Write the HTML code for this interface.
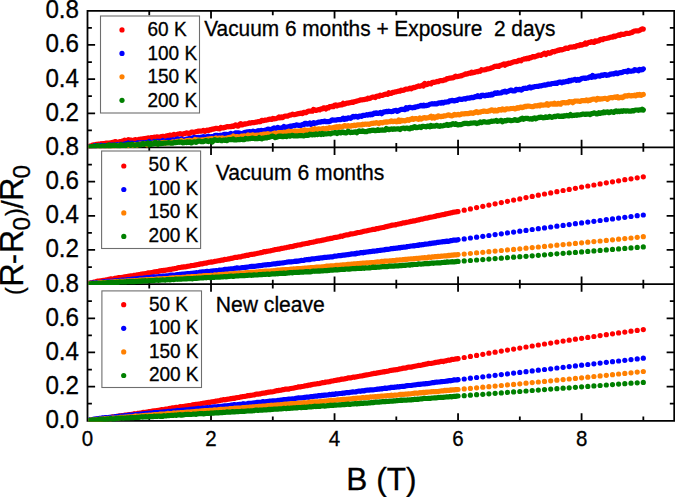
<!DOCTYPE html>
<html><head><meta charset="utf-8"><style>
html,body{margin:0;padding:0;background:#fff;}
body{width:675px;height:497px;overflow:hidden;font-family:"Liberation Sans",sans-serif;}
svg{display:block;} text{stroke:#000;stroke-width:0.3px;}
</style></head><body>
<svg width="675" height="497" viewBox="0 0 675 497"><defs><clipPath id="c0"><rect x="88.30" y="11.60" width="585.12" height="136.77"/></clipPath><clipPath id="c1"><rect x="88.30" y="148.27" width="585.12" height="136.77"/></clipPath><clipPath id="c2"><rect x="88.30" y="284.93" width="585.12" height="136.77"/></clipPath></defs><path d="M87.50 10.80L674.22 10.80M87.50 147.47L674.22 147.47M149.26 10.80L149.26 15.20M149.26 147.47L149.26 143.07M211.02 10.80L211.02 18.40M211.02 147.47L211.02 139.87M272.78 10.80L272.78 15.20M272.78 147.47L272.78 143.07M334.54 10.80L334.54 18.40M334.54 147.47L334.54 139.87M396.30 10.80L396.30 15.20M396.30 147.47L396.30 143.07M458.06 10.80L458.06 18.40M458.06 147.47L458.06 139.87M519.82 10.80L519.82 15.20M519.82 147.47L519.82 143.07M581.58 10.80L581.58 18.40M581.58 147.47L581.58 139.87M643.34 10.80L643.34 15.20M643.34 147.47L643.34 143.07M87.50 130.39L91.90 130.39M674.22 130.39L669.82 130.39M87.50 113.30L95.10 113.30M674.22 113.30L666.62 113.30M87.50 96.22L91.90 96.22M674.22 96.22L669.82 96.22M87.50 79.14L95.10 79.14M674.22 79.14L666.62 79.14M87.50 62.05L91.90 62.05M674.22 62.05L669.82 62.05M87.50 44.97L95.10 44.97M674.22 44.97L666.62 44.97M87.50 27.88L91.90 27.88M674.22 27.88L669.82 27.88M87.50 147.47L674.22 147.47M87.50 284.14L674.22 284.14M149.26 147.47L149.26 151.87M149.26 284.14L149.26 279.74M211.02 147.47L211.02 155.07M211.02 284.14L211.02 276.54M272.78 147.47L272.78 151.87M272.78 284.14L272.78 279.74M334.54 147.47L334.54 155.07M334.54 284.14L334.54 276.54M396.30 147.47L396.30 151.87M396.30 284.14L396.30 279.74M458.06 147.47L458.06 155.07M458.06 284.14L458.06 276.54M519.82 147.47L519.82 151.87M519.82 284.14L519.82 279.74M581.58 147.47L581.58 155.07M581.58 284.14L581.58 276.54M643.34 147.47L643.34 151.87M643.34 284.14L643.34 279.74M87.50 267.06L91.90 267.06M674.22 267.06L669.82 267.06M87.50 249.97L95.10 249.97M674.22 249.97L666.62 249.97M87.50 232.89L91.90 232.89M674.22 232.89L669.82 232.89M87.50 215.81L95.10 215.81M674.22 215.81L666.62 215.81M87.50 198.72L91.90 198.72M674.22 198.72L669.82 198.72M87.50 181.64L95.10 181.64M674.22 181.64L666.62 181.64M87.50 164.55L91.90 164.55M674.22 164.55L669.82 164.55M87.50 284.13L674.22 284.13M87.50 420.80L674.22 420.80M149.26 284.13L149.26 288.53M149.26 420.80L149.26 416.40M211.02 284.13L211.02 291.73M211.02 420.80L211.02 413.20M272.78 284.13L272.78 288.53M272.78 420.80L272.78 416.40M334.54 284.13L334.54 291.73M334.54 420.80L334.54 413.20M396.30 284.13L396.30 288.53M396.30 420.80L396.30 416.40M458.06 284.13L458.06 291.73M458.06 420.80L458.06 413.20M519.82 284.13L519.82 288.53M519.82 420.80L519.82 416.40M581.58 284.13L581.58 291.73M581.58 420.80L581.58 413.20M643.34 284.13L643.34 288.53M643.34 420.80L643.34 416.40M87.50 403.72L91.90 403.72M674.22 403.72L669.82 403.72M87.50 386.63L95.10 386.63M674.22 386.63L666.62 386.63M87.50 369.55L91.90 369.55M674.22 369.55L669.82 369.55M87.50 352.46L95.10 352.46M674.22 352.46L666.62 352.46M87.50 335.38L91.90 335.38M674.22 335.38L669.82 335.38M87.50 318.30L95.10 318.30M674.22 318.30L666.62 318.30M87.50 301.21L91.90 301.21M674.22 301.21L669.82 301.21M87.50 9.90L87.50 421.70M674.22 9.90L674.22 421.70" stroke="#000" stroke-width="1.8" fill="none"/><g clip-path="url(#c0)"><polyline points="87.5,147.5 88.7,146.4 90.0,146.0 91.2,146.2 92.4,145.0 93.7,144.9 94.9,145.1 96.1,144.4 97.4,144.3 98.6,144.1 99.9,144.1 101.1,143.7 102.3,144.0 103.6,143.6 104.8,143.6 106.0,143.0 107.3,143.0 108.5,143.0 109.7,143.1 111.0,142.7 112.2,142.4 113.4,142.4 114.7,141.6 115.9,141.6 117.1,143.0 118.4,142.5 119.6,141.6 120.9,141.6 122.1,141.2 123.3,141.1 124.6,140.1 125.8,141.3 127.0,140.9 128.3,139.7 129.5,140.2 130.7,140.0 132.0,140.4 133.2,140.7 134.4,139.8 135.7,139.7 136.9,140.1 138.1,139.7 139.4,139.3 140.6,139.5 141.8,139.0 143.1,138.8 144.3,138.7 145.6,138.8 146.8,138.2 148.0,137.9 149.3,138.0 150.5,138.3 151.7,137.5 153.0,137.9 154.2,137.1 155.4,137.8 156.7,136.8 157.9,137.0 159.1,137.4 160.4,136.9 161.6,136.5 162.8,136.3 164.1,136.7 165.3,136.5 166.6,135.8 167.8,136.0 169.0,135.5 170.3,135.1 171.5,136.0 172.7,135.0 174.0,134.4 175.2,134.9 176.4,134.9 177.7,134.1 178.9,134.2 180.1,133.7 181.4,134.1 182.6,134.4 183.8,133.6 185.1,133.6 186.3,132.9 187.6,133.0 188.8,133.6 190.0,133.2 191.3,132.2 192.5,132.1 193.7,132.4 195.0,132.0 196.2,131.6 197.4,131.4 198.7,131.1 199.9,131.2 201.1,131.1 202.4,131.0 203.6,130.3 204.8,131.4 206.1,130.4 207.3,130.1 208.5,130.5 209.8,129.6 211.0,129.8 212.3,129.0 213.5,129.2 214.7,128.7 216.0,128.3 217.2,128.4 218.4,128.7 219.7,128.8 220.9,127.3 222.1,127.8 223.4,127.9 224.6,127.3 225.8,127.3 227.1,126.6 228.3,126.8 229.5,126.6 230.8,126.6 232.0,126.0 233.3,126.4 234.5,125.5 235.7,124.9 237.0,125.9 238.2,126.1 239.4,124.6 240.7,123.6 241.9,124.9 243.1,124.7 244.4,123.8 245.6,124.1 246.8,123.8 248.1,123.5 249.3,122.9 250.5,123.1 251.8,122.6 253.0,122.5 254.3,122.6 255.5,122.2 256.7,122.2 258.0,121.6 259.2,121.8 260.4,121.6 261.7,120.3 262.9,120.7 264.1,120.4 265.4,120.0 266.6,120.1 267.8,119.8 269.1,119.3 270.3,119.1 271.5,119.5 272.8,118.4 274.0,118.8 275.3,118.7 276.5,118.4 277.7,118.0 279.0,116.9 280.2,117.8 281.4,117.0 282.7,117.7 283.9,116.6 285.1,116.0 286.4,116.2 287.6,116.1 288.8,115.5 290.1,115.1 291.3,114.9 292.5,114.1 293.8,114.6 295.0,114.6 296.2,114.2 297.5,113.9 298.7,113.6 300.0,113.4 301.2,113.1 302.4,113.6 303.7,112.3 304.9,112.6 306.1,112.6 307.4,111.6 308.6,111.0 309.8,111.1 311.1,111.0 312.3,111.2 313.5,109.4 314.8,109.9 316.0,110.5 317.2,110.1 318.5,109.5 319.7,109.9 321.0,108.9 322.2,108.9 323.4,107.9 324.7,107.8 325.9,109.0 327.1,107.6 328.4,108.0 329.6,106.6 330.8,106.7 332.1,106.3 333.3,106.7 334.5,105.3 335.8,104.9 337.0,105.9 338.2,105.0 339.5,105.2 340.7,104.6 342.0,104.9 343.2,103.3 344.4,104.2 345.7,103.6 346.9,103.0 348.1,103.2 349.4,102.8 350.6,102.6 351.8,102.2 353.1,102.3 354.3,101.7 355.5,101.4 356.8,101.1 358.0,100.7 359.2,100.5 360.5,99.8 361.7,100.0 362.9,99.6 364.2,99.6 365.4,99.2 366.7,99.2 367.9,98.2 369.1,98.6 370.4,98.2 371.6,97.4 372.8,97.1 374.1,97.1 375.3,97.5 376.5,96.2 377.8,96.0 379.0,96.4 380.2,95.2 381.5,95.5 382.7,95.4 383.9,94.6 385.2,94.4 386.4,94.0 387.7,94.4 388.9,92.7 390.1,93.4 391.4,93.5 392.6,92.3 393.8,92.4 395.1,91.8 396.3,91.8 397.5,91.4 398.8,91.0 400.0,91.1 401.2,90.2 402.5,90.4 403.7,90.2 404.9,89.5 406.2,89.1 407.4,89.1 408.7,89.0 409.9,88.1 411.1,88.8 412.4,88.2 413.6,87.4 414.8,87.7 416.1,86.8 417.3,86.6 418.5,85.9 419.8,86.3 421.0,85.9 422.2,85.2 423.5,86.0 424.7,83.4 425.9,84.7 427.2,84.4 428.4,83.4 429.7,83.5 430.9,83.9 432.1,82.6 433.4,82.2 434.6,82.4 435.8,82.0 437.1,81.4 438.3,81.7 439.5,80.8 440.8,80.6 442.0,80.6 443.2,80.6 444.5,79.8 445.7,79.8 446.9,78.7 448.2,78.7 449.4,78.2 450.6,78.1 451.9,77.8 453.1,77.9 454.4,77.0 455.6,76.2 456.8,76.7 458.1,76.5 459.3,76.1 460.5,75.9 461.8,75.6 463.0,75.0 464.2,74.8 465.5,73.8 466.7,74.1 467.9,73.7 469.2,73.1 470.4,73.3 471.6,72.2 472.9,72.8 474.1,72.5 475.4,72.0 476.6,71.6 477.8,71.8 479.1,71.0 480.3,71.3 481.5,69.7 482.8,70.0 484.0,69.9 485.2,69.7 486.5,69.2 487.7,68.8 488.9,68.8 490.2,68.5 491.4,67.8 492.6,67.7 493.9,66.7 495.1,66.3 496.4,66.5 497.6,66.0 498.8,66.4 500.1,65.3 501.3,65.2 502.5,64.7 503.8,63.9 505.0,65.2 506.2,63.8 507.5,64.1 508.7,63.1 509.9,63.5 511.2,62.9 512.4,62.3 513.6,61.8 514.9,61.7 516.1,61.7 517.3,61.3 518.6,60.4 519.8,60.4 521.1,60.8 522.3,59.5 523.5,59.3 524.8,58.8 526.0,59.0 527.2,58.2 528.5,58.6 529.7,57.7 530.9,57.8 532.2,57.0 533.4,56.5 534.6,56.9 535.9,56.3 537.1,56.0 538.3,55.2 539.6,55.1 540.8,55.5 542.1,54.5 543.3,54.1 544.5,53.2 545.8,54.5 547.0,53.7 548.2,52.6 549.5,53.4 550.7,53.0 551.9,52.0 553.2,51.5 554.4,51.8 555.6,51.0 556.9,50.9 558.1,50.0 559.3,50.3 560.6,49.6 561.8,50.0 563.1,49.4 564.3,49.1 565.5,48.2 566.8,48.2 568.0,48.4 569.2,47.5 570.5,47.1 571.7,47.2 572.9,46.9 574.2,46.6 575.4,46.9 576.6,45.8 577.9,45.5 579.1,45.6 580.3,44.7 581.6,45.2 582.8,44.6 584.1,44.2 585.3,42.9 586.5,44.1 587.8,42.9 589.0,42.4 590.2,42.3 591.5,41.7 592.7,42.3 593.9,42.5 595.2,40.9 596.4,41.4 597.6,40.8 598.9,40.8 600.1,39.6 601.3,39.3 602.6,39.7 603.8,38.7 605.0,38.7 606.3,38.5 607.5,38.1 608.8,37.9 610.0,37.3 611.2,37.1 612.5,37.1 613.7,36.2 614.9,36.6 616.2,35.9 617.4,35.6 618.6,34.8 619.9,35.3 621.1,34.1 622.3,34.5 623.6,34.3 624.8,34.2 626.0,33.4 627.3,33.3 628.5,33.5 629.8,33.2 631.0,32.7 632.2,32.4 633.5,31.4 634.7,31.0 635.9,30.9 637.2,30.8 638.4,30.8 639.6,30.3 640.9,29.7 642.1,28.9 643.3,29.1" fill="none" stroke="#ff0000" stroke-width="5.2" stroke-linecap="round" stroke-linejoin="round"/><polyline points="87.5,147.5 88.7,147.1 90.0,146.9 91.2,147.1 92.4,146.7 93.7,146.4 94.9,145.7 96.1,146.3 97.4,145.7 98.6,145.4 99.9,146.0 101.1,145.3 102.3,145.5 103.6,145.9 104.8,145.5 106.0,145.6 107.3,145.6 108.5,145.5 109.7,145.2 111.0,145.0 112.2,145.5 113.4,145.0 114.7,145.6 115.9,144.8 117.1,144.5 118.4,144.6 119.6,144.5 120.9,144.3 122.1,144.7 123.3,144.4 124.6,144.0 125.8,143.7 127.0,143.9 128.3,142.9 129.5,143.9 130.7,143.4 132.0,143.2 133.2,143.6 134.4,143.8 135.7,143.9 136.9,143.2 138.1,142.8 139.4,143.0 140.6,142.9 141.8,143.1 143.1,142.6 144.3,143.6 145.6,142.5 146.8,142.5 148.0,143.0 149.3,141.4 150.5,142.8 151.7,142.6 153.0,142.5 154.2,141.4 155.4,142.2 156.7,141.4 157.9,141.3 159.1,141.4 160.4,141.9 161.6,141.5 162.8,140.5 164.1,141.6 165.3,141.3 166.6,140.9 167.8,140.4 169.0,140.5 170.3,140.2 171.5,140.8 172.7,139.9 174.0,139.9 175.2,140.7 176.4,139.3 177.7,138.9 178.9,140.0 180.1,139.5 181.4,138.9 182.6,139.9 183.8,140.0 185.1,139.6 186.3,139.2 187.6,139.1 188.8,138.5 190.0,138.5 191.3,139.0 192.5,138.1 193.7,137.4 195.0,137.6 196.2,137.5 197.4,137.8 198.7,137.3 199.9,138.0 201.1,137.1 202.4,137.3 203.6,136.7 204.8,136.9 206.1,137.4 207.3,136.7 208.5,136.1 209.8,137.0 211.0,136.6 212.3,136.6 213.5,136.7 214.7,135.6 216.0,135.3 217.2,135.4 218.4,135.5 219.7,135.4 220.9,135.2 222.1,135.4 223.4,134.6 224.6,134.4 225.8,134.3 227.1,134.8 228.3,134.4 229.5,134.3 230.8,133.4 232.0,133.9 233.3,134.6 234.5,133.5 235.7,132.8 237.0,133.1 238.2,132.9 239.4,133.1 240.7,133.8 241.9,133.5 243.1,133.2 244.4,132.5 245.6,132.2 246.8,131.9 248.1,132.2 249.3,131.5 250.5,131.8 251.8,131.9 253.0,131.1 254.3,131.6 255.5,132.2 256.7,131.4 258.0,130.7 259.2,131.9 260.4,130.6 261.7,130.4 262.9,130.7 264.1,130.6 265.4,130.0 266.6,129.9 267.8,129.0 269.1,129.2 270.3,129.8 271.5,129.4 272.8,128.6 274.0,127.9 275.3,128.4 276.5,128.2 277.7,127.4 279.0,128.0 280.2,128.0 281.4,128.3 282.7,127.7 283.9,126.4 285.1,127.7 286.4,127.0 287.6,127.4 288.8,126.6 290.1,126.1 291.3,126.4 292.5,125.8 293.8,125.7 295.0,125.6 296.2,124.9 297.5,125.1 298.7,125.4 300.0,125.4 301.2,125.3 302.4,124.5 303.7,124.7 304.9,123.3 306.1,123.4 307.4,124.1 308.6,124.0 309.8,123.0 311.1,124.3 312.3,123.5 313.5,122.7 314.8,123.3 316.0,123.0 317.2,122.7 318.5,122.1 319.7,122.2 321.0,121.9 322.2,121.6 323.4,121.7 324.7,121.0 325.9,121.6 327.1,121.7 328.4,121.7 329.6,121.4 330.8,120.8 332.1,119.9 333.3,120.1 334.5,120.2 335.8,120.2 337.0,119.8 338.2,119.6 339.5,119.5 340.7,119.6 342.0,119.1 343.2,118.2 344.4,119.4 345.7,118.4 346.9,119.0 348.1,117.8 349.4,118.0 350.6,118.4 351.8,117.3 353.1,116.4 354.3,116.9 355.5,116.3 356.8,116.6 358.0,117.2 359.2,116.0 360.5,116.1 361.7,116.4 362.9,115.3 364.2,115.3 365.4,115.4 366.7,114.6 367.9,115.1 369.1,114.3 370.4,114.8 371.6,114.0 372.8,114.5 374.1,113.2 375.3,113.5 376.5,112.8 377.8,113.5 379.0,113.2 380.2,112.5 381.5,113.7 382.7,112.8 383.9,111.8 385.2,111.8 386.4,111.4 387.7,111.7 388.9,111.2 390.1,111.5 391.4,111.6 392.6,111.5 393.8,110.8 395.1,110.6 396.3,110.4 397.5,111.4 398.8,110.6 400.0,109.8 401.2,109.3 402.5,109.4 403.7,109.3 404.9,109.7 406.2,107.7 407.4,108.8 408.7,107.5 409.9,107.3 411.1,107.6 412.4,107.8 413.6,107.3 414.8,107.6 416.1,106.8 417.3,106.7 418.5,106.3 419.8,105.9 421.0,105.4 422.2,106.0 423.5,105.2 424.7,105.8 425.9,105.6 427.2,105.3 428.4,105.2 429.7,104.2 430.9,104.0 432.1,103.7 433.4,104.0 434.6,103.7 435.8,103.8 437.1,103.8 438.3,103.0 439.5,102.8 440.8,103.2 442.0,102.3 443.2,103.0 444.5,102.2 445.7,102.2 446.9,101.9 448.2,101.9 449.4,100.9 450.6,100.8 451.9,100.4 453.1,100.6 454.4,101.0 455.6,100.4 456.8,100.5 458.1,99.6 459.3,99.1 460.5,99.3 461.8,99.4 463.0,99.1 464.2,98.7 465.5,99.1 466.7,98.3 467.9,98.0 469.2,98.1 470.4,97.9 471.6,97.4 472.9,97.6 474.1,97.4 475.4,96.5 476.6,96.6 477.8,95.7 479.1,96.6 480.3,96.7 481.5,95.4 482.8,95.2 484.0,95.7 485.2,95.8 486.5,95.0 487.7,95.5 488.9,94.7 490.2,95.2 491.4,94.2 492.6,94.8 493.9,93.8 495.1,92.9 496.4,93.4 497.6,92.7 498.8,93.1 500.1,93.0 501.3,93.0 502.5,91.8 503.8,92.0 505.0,91.1 506.2,92.1 507.5,91.5 508.7,91.1 509.9,90.4 511.2,90.0 512.4,90.8 513.6,90.8 514.9,90.8 516.1,89.3 517.3,89.7 518.6,89.7 519.8,89.3 521.1,90.1 522.3,89.6 523.5,88.3 524.8,88.3 526.0,88.2 527.2,88.4 528.5,87.6 529.7,86.9 530.9,87.9 532.2,87.2 533.4,87.1 534.6,86.6 535.9,86.5 537.1,86.4 538.3,86.5 539.6,85.9 540.8,86.0 542.1,85.6 543.3,85.3 544.5,84.8 545.8,85.1 547.0,84.8 548.2,84.0 549.5,84.3 550.7,84.1 551.9,83.5 553.2,83.5 554.4,83.4 555.6,83.1 556.9,83.5 558.1,82.6 559.3,82.0 560.6,82.1 561.8,82.8 563.1,81.9 564.3,82.1 565.5,81.7 566.8,81.3 568.0,81.6 569.2,80.4 570.5,80.8 571.7,80.2 572.9,80.1 574.2,79.6 575.4,79.4 576.6,80.3 577.9,79.5 579.1,80.2 580.3,79.3 581.6,78.6 582.8,78.3 584.1,78.0 585.3,78.5 586.5,78.0 587.8,77.9 589.0,77.2 590.2,76.8 591.5,77.4 592.7,75.5 593.9,76.9 595.2,76.8 596.4,76.2 597.6,76.0 598.9,75.9 600.1,76.2 601.3,75.1 602.6,75.5 603.8,74.7 605.0,74.5 606.3,75.4 607.5,75.1 608.8,74.9 610.0,74.2 611.2,74.1 612.5,73.8 613.7,74.1 614.9,73.4 616.2,72.8 617.4,73.7 618.6,73.0 619.9,72.7 621.1,72.6 622.3,72.5 623.6,71.5 624.8,71.5 626.0,71.4 627.3,71.9 628.5,70.5 629.8,71.1 631.0,71.3 632.2,71.0 633.5,70.9 634.7,69.6 635.9,70.2 637.2,70.1 638.4,70.8 639.6,69.4 640.9,70.0 642.1,69.8 643.3,68.9" fill="none" stroke="#0000ff" stroke-width="5.2" stroke-linecap="round" stroke-linejoin="round"/><polyline points="87.5,147.5 88.7,147.5 90.0,147.4 91.2,148.1 92.4,147.4 93.7,147.9 94.9,147.3 96.1,146.8 97.4,147.7 98.6,146.3 99.9,147.1 101.1,147.4 102.3,146.9 103.6,146.5 104.8,147.3 106.0,146.6 107.3,147.1 108.5,146.0 109.7,146.4 111.0,146.5 112.2,145.9 113.4,146.7 114.7,146.3 115.9,145.3 117.1,146.0 118.4,145.3 119.6,145.7 120.9,146.0 122.1,145.8 123.3,145.6 124.6,145.7 125.8,145.8 127.0,145.7 128.3,145.9 129.5,145.1 130.7,145.0 132.0,144.7 133.2,145.7 134.4,144.5 135.7,144.8 136.9,145.3 138.1,144.6 139.4,144.2 140.6,144.2 141.8,144.1 143.1,143.9 144.3,143.8 145.6,144.1 146.8,144.9 148.0,144.2 149.3,143.7 150.5,143.9 151.7,143.4 153.0,143.3 154.2,143.5 155.4,142.6 156.7,143.7 157.9,142.8 159.1,143.3 160.4,143.4 161.6,142.7 162.8,143.1 164.1,142.4 165.3,143.2 166.6,142.6 167.8,142.8 169.0,142.5 170.3,142.5 171.5,142.7 172.7,141.8 174.0,142.5 175.2,142.3 176.4,141.5 177.7,141.3 178.9,141.4 180.1,141.4 181.4,140.5 182.6,141.8 183.8,141.6 185.1,141.6 186.3,140.7 187.6,140.8 188.8,140.4 190.0,140.4 191.3,140.8 192.5,140.9 193.7,140.9 195.0,139.5 196.2,139.9 197.4,139.9 198.7,140.2 199.9,140.0 201.1,140.0 202.4,139.9 203.6,140.6 204.8,139.6 206.1,139.6 207.3,139.2 208.5,139.2 209.8,138.8 211.0,139.0 212.3,138.6 213.5,139.9 214.7,139.2 216.0,137.9 217.2,139.0 218.4,138.5 219.7,138.0 220.9,138.6 222.1,137.8 223.4,138.6 224.6,138.7 225.8,138.3 227.1,138.3 228.3,137.6 229.5,137.6 230.8,137.2 232.0,137.7 233.3,136.1 234.5,137.1 235.7,136.9 237.0,136.6 238.2,136.8 239.4,136.8 240.7,136.4 241.9,136.0 243.1,136.0 244.4,135.8 245.6,136.3 246.8,136.2 248.1,135.0 249.3,135.8 250.5,135.4 251.8,135.2 253.0,134.8 254.3,135.8 255.5,135.3 256.7,135.2 258.0,135.0 259.2,135.8 260.4,134.7 261.7,135.8 262.9,134.3 264.1,134.1 265.4,134.0 266.6,134.6 267.8,133.6 269.1,134.2 270.3,134.3 271.5,134.1 272.8,133.9 274.0,133.3 275.3,133.0 276.5,134.0 277.7,133.3 279.0,132.6 280.2,132.7 281.4,132.5 282.7,133.2 283.9,132.1 285.1,133.0 286.4,132.2 287.6,131.6 288.8,131.2 290.1,131.7 291.3,131.4 292.5,131.9 293.8,131.7 295.0,130.9 296.2,131.3 297.5,131.2 298.7,131.6 300.0,130.9 301.2,130.5 302.4,131.0 303.7,130.8 304.9,129.8 306.1,130.3 307.4,130.3 308.6,130.5 309.8,130.2 311.1,129.9 312.3,129.2 313.5,129.8 314.8,128.7 316.0,129.7 317.2,129.4 318.5,128.8 319.7,129.1 321.0,129.2 322.2,128.8 323.4,128.4 324.7,129.2 325.9,128.5 327.1,128.3 328.4,128.3 329.6,127.7 330.8,128.1 332.1,127.9 333.3,127.6 334.5,127.2 335.8,127.5 337.0,126.6 338.2,127.5 339.5,126.5 340.7,127.2 342.0,126.8 343.2,126.5 344.4,125.6 345.7,126.0 346.9,126.4 348.1,125.6 349.4,126.1 350.6,126.2 351.8,125.5 353.1,125.6 354.3,125.1 355.5,125.6 356.8,125.1 358.0,124.8 359.2,124.8 360.5,124.8 361.7,125.0 362.9,124.2 364.2,124.4 365.4,124.1 366.7,124.3 367.9,124.1 369.1,124.4 370.4,123.8 371.6,123.4 372.8,123.5 374.1,123.1 375.3,123.2 376.5,122.6 377.8,123.1 379.0,123.6 380.2,122.6 381.5,122.7 382.7,122.9 383.9,122.1 385.2,122.1 386.4,121.9 387.7,122.1 388.9,121.8 390.1,121.6 391.4,120.9 392.6,121.7 393.8,121.3 395.1,121.1 396.3,121.8 397.5,121.6 398.8,119.9 400.0,121.4 401.2,120.3 402.5,120.8 403.7,120.6 404.9,121.0 406.2,120.4 407.4,119.6 408.7,120.3 409.9,119.4 411.1,119.4 412.4,118.5 413.6,119.4 414.8,118.6 416.1,118.6 417.3,118.9 418.5,119.4 419.8,117.9 421.0,119.0 422.2,118.5 423.5,117.8 424.7,117.6 425.9,118.2 427.2,117.8 428.4,117.7 429.7,117.0 430.9,116.3 432.1,118.0 433.4,116.7 434.6,118.1 435.8,116.8 437.1,117.2 438.3,115.8 439.5,116.4 440.8,116.6 442.0,116.4 443.2,116.3 444.5,115.8 445.7,115.8 446.9,115.4 448.2,114.9 449.4,115.1 450.6,115.7 451.9,115.8 453.1,115.3 454.4,114.4 455.6,114.8 456.8,114.8 458.1,114.4 459.3,114.9 460.5,114.6 461.8,113.8 463.0,114.0 464.2,113.9 465.5,113.5 466.7,113.7 467.9,113.6 469.2,113.4 470.4,112.8 471.6,112.9 472.9,113.3 474.1,112.8 475.4,112.3 476.6,111.6 477.8,112.7 479.1,112.0 480.3,112.1 481.5,111.5 482.8,111.5 484.0,111.0 485.2,111.2 486.5,111.5 487.7,111.4 488.9,110.9 490.2,110.8 491.4,109.8 492.6,110.0 493.9,111.0 495.1,110.2 496.4,110.8 497.6,110.8 498.8,109.7 500.1,109.6 501.3,110.1 502.5,108.9 503.8,109.8 505.0,109.8 506.2,108.9 507.5,108.9 508.7,109.0 509.9,108.8 511.2,108.5 512.4,108.5 513.6,108.4 514.9,109.0 516.1,108.6 517.3,107.7 518.6,108.1 519.8,107.5 521.1,107.0 522.3,107.6 523.5,107.2 524.8,106.3 526.0,106.7 527.2,106.1 528.5,106.1 529.7,106.3 530.9,106.5 532.2,106.7 533.4,106.7 534.6,105.9 535.9,105.7 537.1,105.9 538.3,105.3 539.6,105.8 540.8,104.9 542.1,105.2 543.3,105.1 544.5,105.0 545.8,104.9 547.0,103.7 548.2,105.2 549.5,104.4 550.7,103.8 551.9,103.9 553.2,104.2 554.4,103.2 555.6,104.2 556.9,104.2 558.1,103.3 559.3,104.0 560.6,104.2 561.8,102.8 563.1,102.7 564.3,102.6 565.5,102.9 566.8,102.5 568.0,102.8 569.2,101.6 570.5,101.9 571.7,101.7 572.9,102.7 574.2,101.5 575.4,101.0 576.6,101.0 577.9,101.1 579.1,101.3 580.3,101.3 581.6,100.7 582.8,100.7 584.1,100.6 585.3,100.7 586.5,99.8 587.8,100.8 589.0,100.2 590.2,100.3 591.5,99.5 592.7,99.2 593.9,99.2 595.2,99.2 596.4,100.0 597.6,98.4 598.9,98.9 600.1,99.1 601.3,98.9 602.6,98.9 603.8,98.5 605.0,98.4 606.3,98.5 607.5,99.3 608.8,98.1 610.0,97.8 611.2,97.6 612.5,97.8 613.7,97.4 614.9,97.0 616.2,97.5 617.4,96.6 618.6,97.9 619.9,97.5 621.1,97.2 622.3,97.7 623.6,97.0 624.8,95.9 626.0,95.8 627.3,96.1 628.5,95.3 629.8,95.8 631.0,96.0 632.2,95.5 633.5,95.6 634.7,95.1 635.9,95.9 637.2,94.7 638.4,95.2 639.6,94.5 640.9,95.4 642.1,94.8 643.3,94.5" fill="none" stroke="#ff8000" stroke-width="5.2" stroke-linecap="round" stroke-linejoin="round"/><polyline points="87.5,147.5 88.7,147.1 90.0,147.0 91.2,146.7 92.4,147.0 93.7,146.2 94.9,146.6 96.1,146.1 97.4,145.5 98.6,146.1 99.9,146.5 101.1,146.4 102.3,145.9 103.6,146.0 104.8,146.4 106.0,146.2 107.3,145.6 108.5,144.9 109.7,146.9 111.0,145.4 112.2,145.7 113.4,145.3 114.7,145.2 115.9,145.5 117.1,145.8 118.4,145.9 119.6,146.1 120.9,144.7 122.1,145.3 123.3,145.3 124.6,145.2 125.8,145.6 127.0,144.8 128.3,144.4 129.5,144.4 130.7,145.4 132.0,144.2 133.2,145.0 134.4,145.4 135.7,145.1 136.9,144.9 138.1,144.4 139.4,144.8 140.6,144.9 141.8,144.4 143.1,143.4 144.3,144.4 145.6,143.9 146.8,144.0 148.0,142.9 149.3,144.7 150.5,143.4 151.7,144.3 153.0,144.0 154.2,143.7 155.4,142.3 156.7,143.9 157.9,144.3 159.1,142.9 160.4,143.7 161.6,143.4 162.8,143.3 164.1,143.2 165.3,143.2 166.6,143.0 167.8,142.9 169.0,142.6 170.3,143.1 171.5,143.2 172.7,143.2 174.0,142.5 175.2,142.7 176.4,142.4 177.7,142.3 178.9,141.8 180.1,142.3 181.4,142.1 182.6,142.8 183.8,142.7 185.1,142.3 186.3,142.6 187.6,141.8 188.8,142.5 190.0,141.9 191.3,142.9 192.5,142.2 193.7,141.9 195.0,141.8 196.2,142.3 197.4,141.5 198.7,141.1 199.9,141.1 201.1,141.6 202.4,141.5 203.6,141.7 204.8,140.9 206.1,140.5 207.3,141.2 208.5,141.6 209.8,140.8 211.0,140.5 212.3,141.9 213.5,140.6 214.7,139.7 216.0,140.2 217.2,140.3 218.4,140.3 219.7,139.9 220.9,140.7 222.1,140.6 223.4,140.0 224.6,140.4 225.8,139.9 227.1,140.7 228.3,139.6 229.5,139.5 230.8,139.7 232.0,139.6 233.3,138.9 234.5,140.0 235.7,139.8 237.0,139.8 238.2,139.5 239.4,139.7 240.7,139.2 241.9,139.4 243.1,139.6 244.4,139.6 245.6,138.4 246.8,138.8 248.1,138.8 249.3,138.7 250.5,138.6 251.8,138.2 253.0,138.2 254.3,138.6 255.5,138.6 256.7,138.7 258.0,138.7 259.2,137.5 260.4,138.4 261.7,138.8 262.9,138.2 264.1,138.1 265.4,137.6 266.6,138.0 267.8,137.3 269.1,137.3 270.3,136.9 271.5,136.4 272.8,136.1 274.0,136.6 275.3,137.6 276.5,137.2 277.7,136.8 279.0,136.0 280.2,136.5 281.4,136.2 282.7,136.7 283.9,136.3 285.1,136.2 286.4,136.6 287.6,136.0 288.8,135.8 290.1,136.2 291.3,135.7 292.5,135.3 293.8,135.9 295.0,135.9 296.2,135.9 297.5,136.0 298.7,135.6 300.0,135.7 301.2,135.6 302.4,135.7 303.7,135.9 304.9,135.6 306.1,135.0 307.4,135.5 308.6,135.2 309.8,134.2 311.1,134.4 312.3,135.0 313.5,134.4 314.8,134.8 316.0,133.8 317.2,134.6 318.5,134.3 319.7,133.7 321.0,134.5 322.2,133.5 323.4,134.3 324.7,133.8 325.9,133.9 327.1,133.8 328.4,133.6 329.6,133.6 330.8,133.9 332.1,133.1 333.3,133.0 334.5,132.7 335.8,132.6 337.0,133.6 338.2,132.5 339.5,132.4 340.7,133.0 342.0,132.3 343.2,132.0 344.4,132.8 345.7,133.0 346.9,132.5 348.1,131.2 349.4,132.1 350.6,132.6 351.8,132.2 353.1,132.4 354.3,132.0 355.5,131.8 356.8,132.8 358.0,131.5 359.2,130.9 360.5,131.5 361.7,131.5 362.9,130.8 364.2,131.7 365.4,131.6 366.7,131.6 367.9,131.0 369.1,130.7 370.4,130.8 371.6,130.4 372.8,130.2 374.1,130.3 375.3,130.7 376.5,130.4 377.8,129.7 379.0,130.5 380.2,130.1 381.5,130.1 382.7,129.9 383.9,130.2 385.2,130.2 386.4,128.5 387.7,129.1 388.9,129.7 390.1,129.3 391.4,128.9 392.6,129.3 393.8,128.8 395.1,129.2 396.3,129.0 397.5,128.8 398.8,128.9 400.0,129.6 401.2,128.5 402.5,128.3 403.7,128.1 404.9,128.6 406.2,128.0 407.4,128.0 408.7,128.7 409.9,128.8 411.1,127.6 412.4,128.1 413.6,127.2 414.8,126.6 416.1,127.6 417.3,127.6 418.5,127.2 419.8,126.8 421.0,127.5 422.2,126.4 423.5,126.4 424.7,126.5 425.9,126.9 427.2,126.2 428.4,126.1 429.7,126.9 430.9,125.4 432.1,126.3 433.4,125.9 434.6,126.2 435.8,125.8 437.1,125.3 438.3,126.1 439.5,126.3 440.8,125.7 442.0,126.0 443.2,125.7 444.5,125.3 445.7,125.2 446.9,124.5 448.2,125.4 449.4,124.7 450.6,125.0 451.9,124.1 453.1,123.6 454.4,124.4 455.6,123.7 456.8,124.5 458.1,124.9 459.3,124.6 460.5,124.7 461.8,124.3 463.0,123.9 464.2,123.3 465.5,123.4 466.7,123.4 467.9,123.6 469.2,123.6 470.4,123.2 471.6,123.1 472.9,123.0 474.1,122.8 475.4,122.9 476.6,123.6 477.8,123.1 479.1,122.9 480.3,121.8 481.5,122.6 482.8,122.0 484.0,121.6 485.2,122.0 486.5,122.2 487.7,122.0 488.9,122.2 490.2,121.6 491.4,121.2 492.6,121.3 493.9,121.1 495.1,121.0 496.4,120.4 497.6,121.4 498.8,121.0 500.1,120.7 501.3,120.3 502.5,121.7 503.8,120.9 505.0,120.6 506.2,120.9 507.5,120.0 508.7,120.2 509.9,120.3 511.2,120.7 512.4,120.5 513.6,120.3 514.9,119.6 516.1,120.2 517.3,120.4 518.6,120.1 519.8,119.6 521.1,118.6 522.3,118.2 523.5,119.3 524.8,118.6 526.0,118.3 527.2,118.3 528.5,118.8 529.7,119.1 530.9,118.7 532.2,119.2 533.4,118.2 534.6,117.9 535.9,118.9 537.1,118.1 538.3,117.8 539.6,117.3 540.8,117.2 542.1,117.3 543.3,117.8 544.5,117.6 545.8,116.9 547.0,117.5 548.2,117.2 549.5,116.4 550.7,116.9 551.9,117.4 553.2,116.9 554.4,116.4 555.6,116.6 556.9,116.0 558.1,115.8 559.3,116.5 560.6,116.4 561.8,116.1 563.1,116.5 564.3,115.7 565.5,115.9 566.8,115.4 568.0,115.8 569.2,115.9 570.5,114.6 571.7,115.7 572.9,115.4 574.2,115.4 575.4,115.1 576.6,115.3 577.9,114.8 579.1,115.0 580.3,114.8 581.6,114.4 582.8,114.1 584.1,114.1 585.3,114.5 586.5,114.0 587.8,114.1 589.0,114.0 590.2,114.6 591.5,113.5 592.7,113.7 593.9,112.9 595.2,113.2 596.4,113.8 597.6,113.8 598.9,112.7 600.1,113.4 601.3,112.7 602.6,113.0 603.8,111.9 605.0,112.6 606.3,112.0 607.5,111.9 608.8,112.6 610.0,112.4 611.2,111.6 612.5,112.1 613.7,112.4 614.9,111.4 616.2,110.8 617.4,111.7 618.6,111.0 619.9,111.6 621.1,110.9 622.3,111.4 623.6,110.7 624.8,110.9 626.0,111.1 627.3,110.8 628.5,111.1 629.8,111.2 631.0,111.1 632.2,110.6 633.5,110.9 634.7,110.2 635.9,110.0 637.2,110.0 638.4,110.3 639.6,109.9 640.9,109.9 642.1,109.2 643.3,110.0" fill="none" stroke="#008000" stroke-width="5.2" stroke-linecap="round" stroke-linejoin="round"/></g><g clip-path="url(#c1)"><polyline points="87.5,284.1 88.7,283.4 90.0,283.1 91.2,282.9 92.4,282.6 93.7,282.1 94.9,282.0 96.1,281.6 97.4,281.2 98.6,281.1 99.9,281.3 101.1,280.7 102.3,280.5 103.6,280.3 104.8,280.4 106.0,279.9 107.3,279.9 108.5,279.4 109.7,279.2 111.0,278.8 112.2,279.0 113.4,278.9 114.7,278.4 115.9,278.2 117.1,278.2 118.4,277.7 119.6,277.6 120.9,277.7 122.1,277.4 123.3,277.2 124.6,276.9 125.8,276.7 127.0,276.6 128.3,276.4 129.5,276.0 130.7,275.9 132.0,275.8 133.2,275.6 134.4,275.3 135.7,275.4 136.9,274.9 138.1,274.9 139.4,274.5 140.6,274.5 141.8,274.0 143.1,273.9 144.3,273.9 145.6,273.5 146.8,273.4 148.0,272.9 149.3,272.8 150.5,272.8 151.7,272.5 153.0,272.3 154.2,271.9 155.4,271.8 156.7,271.6 157.9,271.6 159.1,271.1 160.4,270.8 161.6,270.7 162.8,270.6 164.1,270.4 165.3,270.3 166.6,270.0 167.8,269.9 169.0,269.6 170.3,269.4 171.5,269.3 172.7,268.9 174.0,268.9 175.2,268.5 176.4,268.5 177.7,267.8 178.9,267.6 180.1,267.5 181.4,267.2 182.6,267.1 183.8,266.9 185.1,266.9 186.3,266.7 187.6,266.3 188.8,266.2 190.0,266.0 191.3,265.6 192.5,265.5 193.7,265.5 195.0,265.1 196.2,264.9 197.4,264.6 198.7,264.5 199.9,264.0 201.1,263.7 202.4,263.9 203.6,263.4 204.8,263.2 206.1,263.2 207.3,262.8 208.5,262.4 209.8,262.2 211.0,261.9 212.3,262.1 213.5,261.8 214.7,261.4 216.0,261.2 217.2,261.0 218.4,260.8 219.7,260.6 220.9,260.4 222.1,260.0 223.4,260.2 224.6,259.4 225.8,259.5 227.1,259.3 228.3,258.8 229.5,258.9 230.8,258.4 232.0,258.3 233.3,257.9 234.5,257.6 235.7,257.3 237.0,257.4 238.2,257.1 239.4,256.8 240.7,256.8 241.9,256.3 243.1,256.1 244.4,256.0 245.6,255.5 246.8,255.2 248.1,255.3 249.3,254.8 250.5,254.5 251.8,254.3 253.0,254.3 254.3,254.1 255.5,253.7 256.7,253.5 258.0,253.2 259.2,253.0 260.4,252.7 261.7,252.6 262.9,252.3 264.1,251.6 265.4,251.8 266.6,251.4 267.8,251.2 269.1,251.0 270.3,250.9 271.5,250.5 272.8,250.3 274.0,249.9 275.3,249.5 276.5,249.5 277.7,249.2 279.0,249.2 280.2,248.8 281.4,248.3 282.7,248.3 283.9,248.1 285.1,247.8 286.4,247.6 287.6,247.3 288.8,247.1 290.1,246.5 291.3,246.7 292.5,246.4 293.8,246.1 295.0,245.6 296.2,245.6 297.5,245.1 298.7,245.0 300.0,244.8 301.2,244.7 302.4,244.1 303.7,244.0 304.9,243.7 306.1,243.5 307.4,243.3 308.6,243.2 309.8,242.6 311.1,242.5 312.3,242.3 313.5,242.1 314.8,241.7 316.0,241.5 317.2,241.0 318.5,240.9 319.7,240.8 321.0,240.6 322.2,240.2 323.4,240.1 324.7,239.7 325.9,239.4 327.1,239.1 328.4,238.9 329.6,238.7 330.8,238.3 332.1,238.3 333.3,237.9 334.5,237.5 335.8,237.3 337.0,237.3 338.2,237.0 339.5,236.8 340.7,236.1 342.0,236.3 343.2,235.8 344.4,235.3 345.7,235.1 346.9,234.8 348.1,234.8 349.4,234.4 350.6,233.8 351.8,234.0 353.1,233.7 354.3,233.5 355.5,233.2 356.8,232.9 358.0,232.5 359.2,232.5 360.5,232.3 361.7,231.9 362.9,231.6 364.2,231.2 365.4,231.0 366.7,230.9 367.9,230.5 369.1,230.2 370.4,230.0 371.6,229.8 372.8,229.4 374.1,229.3 375.3,229.3 376.5,228.6 377.8,228.7 379.0,228.3 380.2,228.0 381.5,227.7 382.7,227.5 383.9,227.4 385.2,226.8 386.4,226.6 387.7,226.4 388.9,226.0 390.1,225.7 391.4,225.4 392.6,225.1 393.8,225.0 395.1,225.0 396.3,224.5 397.5,224.3 398.8,224.0 400.0,223.8 401.2,223.6 402.5,223.1 403.7,222.8 404.9,222.8 406.2,222.4 407.4,222.2 408.7,222.0 409.9,221.6 411.1,221.4 412.4,221.2 413.6,220.8 414.8,220.9 416.1,220.4 417.3,220.1 418.5,220.0 419.8,219.5 421.0,219.2 422.2,219.1 423.5,218.8 424.7,218.4 425.9,218.1 427.2,218.1 428.4,217.7 429.7,217.3 430.9,217.2 432.1,217.0 433.4,216.8 434.6,216.4 435.8,216.3 437.1,215.6 438.3,215.7 439.5,215.3 440.8,215.1 442.0,214.8 443.2,214.6 444.5,214.5 445.7,213.8 446.9,213.8 448.2,213.5 449.4,213.3 450.6,212.8 451.9,212.7 453.1,212.3 454.4,212.1 455.6,212.0 456.8,211.7 458.1,211.6" fill="none" stroke="#ff0000" stroke-width="5.2" stroke-linecap="round" stroke-linejoin="round"/><circle cx="464.2" cy="210.2" r="2.6" fill="#ff0000"/><circle cx="470.4" cy="208.9" r="2.6" fill="#ff0000"/><circle cx="476.6" cy="207.6" r="2.6" fill="#ff0000"/><circle cx="482.8" cy="206.3" r="2.6" fill="#ff0000"/><circle cx="488.9" cy="205.1" r="2.6" fill="#ff0000"/><circle cx="495.1" cy="203.8" r="2.6" fill="#ff0000"/><circle cx="501.3" cy="202.6" r="2.6" fill="#ff0000"/><circle cx="507.5" cy="201.3" r="2.6" fill="#ff0000"/><circle cx="513.6" cy="200.1" r="2.6" fill="#ff0000"/><circle cx="519.8" cy="198.9" r="2.6" fill="#ff0000"/><circle cx="526.0" cy="197.6" r="2.6" fill="#ff0000"/><circle cx="532.2" cy="196.4" r="2.6" fill="#ff0000"/><circle cx="538.3" cy="195.2" r="2.6" fill="#ff0000"/><circle cx="544.5" cy="194.0" r="2.6" fill="#ff0000"/><circle cx="550.7" cy="192.9" r="2.6" fill="#ff0000"/><circle cx="556.9" cy="191.7" r="2.6" fill="#ff0000"/><circle cx="563.1" cy="190.5" r="2.6" fill="#ff0000"/><circle cx="569.2" cy="189.4" r="2.6" fill="#ff0000"/><circle cx="575.4" cy="188.3" r="2.6" fill="#ff0000"/><circle cx="581.6" cy="187.1" r="2.6" fill="#ff0000"/><circle cx="587.8" cy="186.0" r="2.6" fill="#ff0000"/><circle cx="593.9" cy="185.0" r="2.6" fill="#ff0000"/><circle cx="600.1" cy="183.9" r="2.6" fill="#ff0000"/><circle cx="606.3" cy="182.8" r="2.6" fill="#ff0000"/><circle cx="612.5" cy="181.8" r="2.6" fill="#ff0000"/><circle cx="618.6" cy="180.8" r="2.6" fill="#ff0000"/><circle cx="624.8" cy="179.7" r="2.6" fill="#ff0000"/><circle cx="631.0" cy="178.8" r="2.6" fill="#ff0000"/><circle cx="637.2" cy="177.8" r="2.6" fill="#ff0000"/><circle cx="643.3" cy="176.8" r="2.6" fill="#ff0000"/><polyline points="87.5,284.1 88.7,283.7 90.0,283.5 91.2,283.0 92.4,283.0 93.7,282.9 94.9,283.0 96.1,282.5 97.4,282.8 98.6,282.6 99.9,282.5 101.1,282.4 102.3,282.1 103.6,281.9 104.8,281.6 106.0,281.6 107.3,281.4 108.5,281.4 109.7,281.4 111.0,281.3 112.2,281.3 113.4,281.1 114.7,280.9 115.9,280.7 117.1,280.9 118.4,280.7 119.6,280.4 120.9,280.4 122.1,280.1 123.3,280.1 124.6,280.0 125.8,280.0 127.0,279.7 128.3,279.7 129.5,279.5 130.7,279.4 132.0,279.2 133.2,279.1 134.4,279.2 135.7,278.9 136.9,278.7 138.1,278.5 139.4,278.4 140.6,278.4 141.8,278.4 143.1,278.3 144.3,277.9 145.6,278.0 146.8,277.6 148.0,277.5 149.3,277.7 150.5,277.4 151.7,277.3 153.0,276.9 154.2,276.9 155.4,277.0 156.7,276.8 157.9,276.8 159.1,276.6 160.4,276.4 161.6,276.3 162.8,276.2 164.1,276.2 165.3,276.2 166.6,275.9 167.8,275.8 169.0,275.7 170.3,275.2 171.5,275.2 172.7,275.2 174.0,275.3 175.2,275.1 176.4,274.8 177.7,274.5 178.9,274.6 180.1,274.4 181.4,274.3 182.6,274.0 183.8,274.3 185.1,273.9 186.3,273.7 187.6,273.5 188.8,273.5 190.0,273.6 191.3,273.4 192.5,273.4 193.7,273.0 195.0,272.9 196.2,272.7 197.4,272.8 198.7,272.6 199.9,272.1 201.1,272.2 202.4,271.9 203.6,271.9 204.8,272.0 206.1,271.6 207.3,271.4 208.5,271.5 209.8,271.5 211.0,271.1 212.3,271.0 213.5,270.8 214.7,271.1 216.0,270.5 217.2,270.8 218.4,270.5 219.7,270.1 220.9,270.3 222.1,270.2 223.4,269.8 224.6,269.4 225.8,269.3 227.1,269.5 228.3,269.1 229.5,269.0 230.8,268.9 232.0,268.8 233.3,268.8 234.5,268.4 235.7,268.2 237.0,267.9 238.2,268.0 239.4,268.3 240.7,268.0 241.9,267.6 243.1,267.5 244.4,267.6 245.6,267.3 246.8,267.2 248.1,267.0 249.3,266.8 250.5,266.5 251.8,266.3 253.0,266.3 254.3,266.4 255.5,266.2 256.7,266.0 258.0,265.8 259.2,265.7 260.4,265.6 261.7,265.5 262.9,265.1 264.1,265.0 265.4,264.8 266.6,264.8 267.8,264.6 269.1,264.6 270.3,264.5 271.5,264.3 272.8,264.0 274.0,263.9 275.3,263.9 276.5,263.6 277.7,263.4 279.0,263.3 280.2,263.2 281.4,263.0 282.7,262.9 283.9,262.7 285.1,262.5 286.4,262.3 287.6,262.0 288.8,261.9 290.1,261.8 291.3,261.8 292.5,261.7 293.8,261.5 295.0,261.2 296.2,261.5 297.5,261.0 298.7,261.1 300.0,260.7 301.2,260.4 302.4,260.5 303.7,260.5 304.9,259.9 306.1,259.7 307.4,259.7 308.6,259.4 309.8,259.6 311.1,259.1 312.3,258.9 313.5,258.9 314.8,258.8 316.0,258.5 317.2,258.4 318.5,258.5 319.7,258.0 321.0,257.9 322.2,257.9 323.4,257.6 324.7,257.4 325.9,257.3 327.1,257.3 328.4,257.0 329.6,257.1 330.8,256.8 332.1,256.9 333.3,256.7 334.5,256.2 335.8,256.2 337.0,256.0 338.2,255.7 339.5,255.6 340.7,255.6 342.0,255.3 343.2,255.2 344.4,255.1 345.7,254.9 346.9,254.7 348.1,254.6 349.4,254.4 350.6,254.2 351.8,253.8 353.1,254.0 354.3,253.7 355.5,253.8 356.8,253.2 358.0,253.3 359.2,253.1 360.5,252.7 361.7,252.6 362.9,252.8 364.2,252.3 365.4,252.3 366.7,252.0 367.9,251.9 369.1,251.7 370.4,251.6 371.6,251.5 372.8,251.1 374.1,251.3 375.3,251.0 376.5,250.9 377.8,250.6 379.0,250.5 380.2,250.3 381.5,250.2 382.7,250.0 383.9,250.0 385.2,249.6 386.4,249.4 387.7,249.4 388.9,249.2 390.1,249.0 391.4,248.6 392.6,248.6 393.8,248.4 395.1,248.3 396.3,248.2 397.5,248.1 398.8,247.6 400.0,247.9 401.2,247.4 402.5,247.3 403.7,247.2 404.9,247.2 406.2,247.0 407.4,246.5 408.7,246.5 409.9,246.2 411.1,246.0 412.4,245.9 413.6,245.7 414.8,245.8 416.1,245.5 417.3,245.2 418.5,245.3 419.8,244.7 421.0,244.9 422.2,244.6 423.5,244.6 424.7,244.2 425.9,244.2 427.2,244.0 428.4,243.9 429.7,243.4 430.9,243.6 432.1,243.2 433.4,243.1 434.6,242.9 435.8,242.9 437.1,242.4 438.3,242.3 439.5,242.2 440.8,242.0 442.0,241.9 443.2,241.6 444.5,241.7 445.7,241.3 446.9,241.2 448.2,241.3 449.4,241.2 450.6,240.7 451.9,240.6 453.1,240.2 454.4,240.2 455.6,240.1 456.8,240.1 458.1,239.7" fill="none" stroke="#0000ff" stroke-width="5.2" stroke-linecap="round" stroke-linejoin="round"/><circle cx="464.2" cy="238.9" r="2.6" fill="#0000ff"/><circle cx="470.4" cy="238.0" r="2.6" fill="#0000ff"/><circle cx="476.6" cy="237.2" r="2.6" fill="#0000ff"/><circle cx="482.8" cy="236.3" r="2.6" fill="#0000ff"/><circle cx="488.9" cy="235.5" r="2.6" fill="#0000ff"/><circle cx="495.1" cy="234.6" r="2.6" fill="#0000ff"/><circle cx="501.3" cy="233.8" r="2.6" fill="#0000ff"/><circle cx="507.5" cy="232.9" r="2.6" fill="#0000ff"/><circle cx="513.6" cy="232.1" r="2.6" fill="#0000ff"/><circle cx="519.8" cy="231.2" r="2.6" fill="#0000ff"/><circle cx="526.0" cy="230.4" r="2.6" fill="#0000ff"/><circle cx="532.2" cy="229.5" r="2.6" fill="#0000ff"/><circle cx="538.3" cy="228.7" r="2.6" fill="#0000ff"/><circle cx="544.5" cy="227.9" r="2.6" fill="#0000ff"/><circle cx="550.7" cy="227.0" r="2.6" fill="#0000ff"/><circle cx="556.9" cy="226.2" r="2.6" fill="#0000ff"/><circle cx="563.1" cy="225.4" r="2.6" fill="#0000ff"/><circle cx="569.2" cy="224.6" r="2.6" fill="#0000ff"/><circle cx="575.4" cy="223.7" r="2.6" fill="#0000ff"/><circle cx="581.6" cy="222.9" r="2.6" fill="#0000ff"/><circle cx="587.8" cy="222.1" r="2.6" fill="#0000ff"/><circle cx="593.9" cy="221.3" r="2.6" fill="#0000ff"/><circle cx="600.1" cy="220.5" r="2.6" fill="#0000ff"/><circle cx="606.3" cy="219.7" r="2.6" fill="#0000ff"/><circle cx="612.5" cy="218.9" r="2.6" fill="#0000ff"/><circle cx="618.6" cy="218.1" r="2.6" fill="#0000ff"/><circle cx="624.8" cy="217.3" r="2.6" fill="#0000ff"/><circle cx="631.0" cy="216.5" r="2.6" fill="#0000ff"/><circle cx="637.2" cy="215.7" r="2.6" fill="#0000ff"/><circle cx="643.3" cy="215.0" r="2.6" fill="#0000ff"/><polyline points="87.5,284.1 88.7,283.9 90.0,283.7 91.2,283.4 92.4,283.5 93.7,283.5 94.9,283.2 96.1,283.3 97.4,283.3 98.6,282.9 99.9,283.0 101.1,282.6 102.3,282.7 103.6,282.7 104.8,282.5 106.0,282.3 107.3,282.4 108.5,282.4 109.7,282.3 111.0,282.2 112.2,282.2 113.4,282.1 114.7,281.8 115.9,281.6 117.1,281.8 118.4,281.5 119.6,281.4 120.9,281.2 122.1,281.4 123.3,281.4 124.6,281.2 125.8,281.1 127.0,281.0 128.3,280.8 129.5,281.0 130.7,280.8 132.0,280.9 133.2,280.7 134.4,280.7 135.7,280.6 136.9,280.5 138.1,280.4 139.4,280.2 140.6,280.1 141.8,280.3 143.1,279.9 144.3,280.2 145.6,279.8 146.8,279.7 148.0,279.8 149.3,279.6 150.5,279.6 151.7,279.3 153.0,279.8 154.2,279.4 155.4,279.5 156.7,279.1 157.9,278.9 159.1,278.8 160.4,278.8 161.6,278.8 162.8,278.8 164.1,278.5 165.3,278.5 166.6,278.6 167.8,278.6 169.0,278.4 170.3,278.1 171.5,278.0 172.7,277.8 174.0,278.1 175.2,277.9 176.4,277.6 177.7,277.7 178.9,277.5 180.1,277.7 181.4,277.5 182.6,277.4 183.8,277.3 185.1,277.3 186.3,277.3 187.6,276.8 188.8,276.9 190.0,277.1 191.3,276.6 192.5,276.7 193.7,276.5 195.0,276.5 196.2,276.5 197.4,276.4 198.7,276.2 199.9,276.1 201.1,276.0 202.4,275.9 203.6,275.7 204.8,275.8 206.1,275.6 207.3,275.5 208.5,275.5 209.8,275.5 211.0,275.4 212.3,275.5 213.5,275.4 214.7,274.9 216.0,275.0 217.2,275.0 218.4,274.6 219.7,274.6 220.9,274.7 222.1,274.4 223.4,274.5 224.6,274.3 225.8,274.1 227.1,274.1 228.3,274.2 229.5,273.9 230.8,273.8 232.0,273.9 233.3,273.8 234.5,273.4 235.7,273.6 237.0,273.7 238.2,273.4 239.4,273.0 240.7,273.1 241.9,273.0 243.1,273.3 244.4,273.0 245.6,272.7 246.8,272.8 248.1,272.5 249.3,272.5 250.5,272.4 251.8,272.1 253.0,272.3 254.3,272.2 255.5,272.0 256.7,271.9 258.0,272.1 259.2,271.6 260.4,271.7 261.7,271.6 262.9,271.4 264.1,271.4 265.4,271.1 266.6,271.2 267.8,271.0 269.1,271.1 270.3,271.0 271.5,270.8 272.8,270.8 274.0,270.7 275.3,270.5 276.5,270.3 277.7,270.2 279.0,270.1 280.2,270.1 281.4,269.9 282.7,269.7 283.9,269.8 285.1,269.7 286.4,269.6 287.6,269.8 288.8,269.5 290.1,269.3 291.3,269.1 292.5,269.2 293.8,268.9 295.0,269.0 296.2,268.9 297.5,268.5 298.7,268.8 300.0,268.6 301.2,268.5 302.4,268.4 303.7,268.3 304.9,268.1 306.1,268.2 307.4,268.1 308.6,267.8 309.8,267.9 311.1,267.6 312.3,267.5 313.5,267.5 314.8,267.4 316.0,267.2 317.2,267.1 318.5,267.1 319.7,267.0 321.0,267.0 322.2,266.8 323.4,266.9 324.7,266.5 325.9,266.5 327.1,266.0 328.4,266.0 329.6,266.1 330.8,265.9 332.1,265.9 333.3,265.9 334.5,266.0 335.8,265.4 337.0,265.4 338.2,265.6 339.5,265.2 340.7,265.0 342.0,265.1 343.2,264.8 344.4,265.1 345.7,264.8 346.9,264.6 348.1,264.4 349.4,264.4 350.6,264.3 351.8,264.1 353.1,264.2 354.3,263.8 355.5,263.9 356.8,263.7 358.0,263.7 359.2,263.6 360.5,263.4 361.7,263.3 362.9,263.1 364.2,263.0 365.4,263.1 366.7,262.9 367.9,262.8 369.1,262.8 370.4,262.7 371.6,262.5 372.8,262.5 374.1,262.5 375.3,262.2 376.5,262.0 377.8,261.9 379.0,262.0 380.2,261.8 381.5,261.4 382.7,261.6 383.9,261.4 385.2,261.0 386.4,261.1 387.7,261.1 388.9,261.2 390.1,260.8 391.4,260.9 392.6,260.6 393.8,260.6 395.1,260.6 396.3,260.1 397.5,260.2 398.8,260.0 400.0,259.9 401.2,260.0 402.5,259.7 403.7,259.7 404.9,259.4 406.2,259.3 407.4,259.3 408.7,259.0 409.9,259.0 411.1,258.9 412.4,259.0 413.6,258.7 414.8,258.8 416.1,258.4 417.3,258.5 418.5,258.3 419.8,258.2 421.0,258.0 422.2,257.9 423.5,257.8 424.7,257.7 425.9,257.8 427.2,257.8 428.4,257.2 429.7,257.2 430.9,257.4 432.1,256.8 433.4,257.0 434.6,256.7 435.8,256.6 437.1,256.6 438.3,256.4 439.5,256.5 440.8,256.2 442.0,256.2 443.2,256.0 444.5,255.9 445.7,255.9 446.9,255.8 448.2,255.4 449.4,255.6 450.6,255.3 451.9,255.2 453.1,255.1 454.4,254.9 455.6,254.8 456.8,254.8 458.1,254.6" fill="none" stroke="#ff8000" stroke-width="5.2" stroke-linecap="round" stroke-linejoin="round"/><circle cx="464.2" cy="254.1" r="2.6" fill="#ff8000"/><circle cx="470.4" cy="253.5" r="2.6" fill="#ff8000"/><circle cx="476.6" cy="252.9" r="2.6" fill="#ff8000"/><circle cx="482.8" cy="252.3" r="2.6" fill="#ff8000"/><circle cx="488.9" cy="251.7" r="2.6" fill="#ff8000"/><circle cx="495.1" cy="251.1" r="2.6" fill="#ff8000"/><circle cx="501.3" cy="250.5" r="2.6" fill="#ff8000"/><circle cx="507.5" cy="249.9" r="2.6" fill="#ff8000"/><circle cx="513.6" cy="249.4" r="2.6" fill="#ff8000"/><circle cx="519.8" cy="248.8" r="2.6" fill="#ff8000"/><circle cx="526.0" cy="248.2" r="2.6" fill="#ff8000"/><circle cx="532.2" cy="247.6" r="2.6" fill="#ff8000"/><circle cx="538.3" cy="247.0" r="2.6" fill="#ff8000"/><circle cx="544.5" cy="246.4" r="2.6" fill="#ff8000"/><circle cx="550.7" cy="245.8" r="2.6" fill="#ff8000"/><circle cx="556.9" cy="245.2" r="2.6" fill="#ff8000"/><circle cx="563.1" cy="244.6" r="2.6" fill="#ff8000"/><circle cx="569.2" cy="244.0" r="2.6" fill="#ff8000"/><circle cx="575.4" cy="243.4" r="2.6" fill="#ff8000"/><circle cx="581.6" cy="242.8" r="2.6" fill="#ff8000"/><circle cx="587.8" cy="242.2" r="2.6" fill="#ff8000"/><circle cx="593.9" cy="241.6" r="2.6" fill="#ff8000"/><circle cx="600.1" cy="241.0" r="2.6" fill="#ff8000"/><circle cx="606.3" cy="240.4" r="2.6" fill="#ff8000"/><circle cx="612.5" cy="239.8" r="2.6" fill="#ff8000"/><circle cx="618.6" cy="239.2" r="2.6" fill="#ff8000"/><circle cx="624.8" cy="238.6" r="2.6" fill="#ff8000"/><circle cx="631.0" cy="238.0" r="2.6" fill="#ff8000"/><circle cx="637.2" cy="237.3" r="2.6" fill="#ff8000"/><circle cx="643.3" cy="236.7" r="2.6" fill="#ff8000"/><polyline points="87.5,284.1 88.7,283.9 90.0,283.8 91.2,283.8 92.4,283.4 93.7,283.8 94.9,283.5 96.1,283.3 97.4,283.5 98.6,283.3 99.9,283.3 101.1,283.3 102.3,283.1 103.6,282.9 104.8,283.0 106.0,282.8 107.3,282.7 108.5,282.6 109.7,282.8 111.0,282.5 112.2,282.6 113.4,282.7 114.7,282.5 115.9,282.3 117.1,282.2 118.4,282.4 119.6,281.9 120.9,282.0 122.1,282.0 123.3,282.0 124.6,281.9 125.8,281.9 127.0,281.6 128.3,281.7 129.5,281.6 130.7,281.6 132.0,281.7 133.2,281.4 134.4,281.6 135.7,281.4 136.9,281.3 138.1,281.3 139.4,281.0 140.6,281.3 141.8,280.8 143.1,281.1 144.3,280.8 145.6,280.7 146.8,280.9 148.0,280.8 149.3,280.5 150.5,280.6 151.7,280.5 153.0,280.7 154.2,280.6 155.4,280.3 156.7,280.1 157.9,280.3 159.1,280.3 160.4,280.1 161.6,280.0 162.8,279.9 164.1,280.0 165.3,280.1 166.6,279.6 167.8,279.8 169.0,279.5 170.3,279.9 171.5,279.5 172.7,279.5 174.0,279.6 175.2,279.2 176.4,279.1 177.7,279.3 178.9,279.1 180.1,279.2 181.4,279.1 182.6,279.0 183.8,278.9 185.1,278.7 186.3,278.9 187.6,278.6 188.8,278.5 190.0,278.6 191.3,278.7 192.5,278.8 193.7,278.4 195.0,278.4 196.2,278.2 197.4,278.3 198.7,278.1 199.9,278.0 201.1,278.0 202.4,277.9 203.6,277.8 204.8,277.6 206.1,277.8 207.3,277.5 208.5,277.5 209.8,277.6 211.0,277.6 212.3,277.2 213.5,277.3 214.7,277.3 216.0,277.1 217.2,277.1 218.4,277.1 219.7,277.1 220.9,276.9 222.1,276.8 223.4,276.8 224.6,276.5 225.8,276.8 227.1,276.7 228.3,276.4 229.5,276.3 230.8,276.2 232.0,276.2 233.3,276.5 234.5,276.1 235.7,276.0 237.0,275.9 238.2,276.0 239.4,275.8 240.7,275.6 241.9,275.5 243.1,275.6 244.4,275.7 245.6,275.5 246.8,275.3 248.1,275.3 249.3,275.0 250.5,275.2 251.8,275.3 253.0,275.1 254.3,274.9 255.5,275.0 256.7,275.0 258.0,274.9 259.2,274.5 260.4,274.6 261.7,274.6 262.9,274.4 264.1,274.3 265.4,274.5 266.6,274.1 267.8,274.1 269.1,274.4 270.3,274.2 271.5,273.9 272.8,273.8 274.0,273.8 275.3,273.9 276.5,273.6 277.7,273.8 279.0,273.4 280.2,273.4 281.4,273.4 282.7,273.4 283.9,273.1 285.1,273.4 286.4,273.2 287.6,272.9 288.8,273.0 290.1,272.6 291.3,272.7 292.5,272.8 293.8,272.4 295.0,272.5 296.2,272.4 297.5,272.4 298.7,272.4 300.0,272.1 301.2,272.1 302.4,272.2 303.7,272.1 304.9,271.8 306.1,271.6 307.4,271.9 308.6,271.6 309.8,272.0 311.1,271.7 312.3,271.3 313.5,271.1 314.8,271.3 316.0,271.1 317.2,271.1 318.5,270.9 319.7,271.1 321.0,270.8 322.2,270.9 323.4,270.8 324.7,270.6 325.9,270.6 327.1,270.6 328.4,270.4 329.6,270.4 330.8,270.0 332.1,270.1 333.3,270.1 334.5,269.8 335.8,269.7 337.0,269.8 338.2,269.8 339.5,269.6 340.7,269.5 342.0,269.3 343.2,269.5 344.4,269.4 345.7,269.0 346.9,269.0 348.1,269.1 349.4,269.1 350.6,268.9 351.8,268.7 353.1,268.7 354.3,268.6 355.5,268.6 356.8,268.4 358.0,268.5 359.2,268.4 360.5,268.4 361.7,268.3 362.9,267.9 364.2,268.3 365.4,267.9 366.7,268.0 367.9,268.0 369.1,267.7 370.4,267.8 371.6,267.5 372.8,267.1 374.1,267.4 375.3,267.2 376.5,267.3 377.8,267.0 379.0,267.2 380.2,266.9 381.5,266.9 382.7,266.5 383.9,266.7 385.2,266.7 386.4,266.6 387.7,266.6 388.9,266.2 390.1,266.1 391.4,266.2 392.6,266.0 393.8,266.1 395.1,265.9 396.3,265.8 397.5,265.9 398.8,265.8 400.0,265.4 401.2,265.7 402.5,265.4 403.7,265.4 404.9,265.4 406.2,265.1 407.4,265.0 408.7,264.9 409.9,265.2 411.1,264.6 412.4,264.8 413.6,264.5 414.8,264.5 416.1,264.5 417.3,264.4 418.5,263.8 419.8,264.0 421.0,264.1 422.2,264.0 423.5,263.8 424.7,263.7 425.9,263.7 427.2,263.7 428.4,263.7 429.7,263.4 430.9,263.2 432.1,263.0 433.4,263.3 434.6,263.0 435.8,263.0 437.1,262.8 438.3,262.9 439.5,262.8 440.8,262.9 442.0,262.5 443.2,262.5 444.5,262.2 445.7,262.4 446.9,261.9 448.2,262.2 449.4,262.0 450.6,261.9 451.9,261.7 453.1,261.8 454.4,261.8 455.6,261.7 456.8,261.4 458.1,261.4" fill="none" stroke="#008000" stroke-width="5.2" stroke-linecap="round" stroke-linejoin="round"/><circle cx="464.2" cy="260.9" r="2.6" fill="#008000"/><circle cx="470.4" cy="260.5" r="2.6" fill="#008000"/><circle cx="476.6" cy="260.0" r="2.6" fill="#008000"/><circle cx="482.8" cy="259.6" r="2.6" fill="#008000"/><circle cx="488.9" cy="259.1" r="2.6" fill="#008000"/><circle cx="495.1" cy="258.6" r="2.6" fill="#008000"/><circle cx="501.3" cy="258.2" r="2.6" fill="#008000"/><circle cx="507.5" cy="257.7" r="2.6" fill="#008000"/><circle cx="513.6" cy="257.2" r="2.6" fill="#008000"/><circle cx="519.8" cy="256.7" r="2.6" fill="#008000"/><circle cx="526.0" cy="256.3" r="2.6" fill="#008000"/><circle cx="532.2" cy="255.8" r="2.6" fill="#008000"/><circle cx="538.3" cy="255.3" r="2.6" fill="#008000"/><circle cx="544.5" cy="254.8" r="2.6" fill="#008000"/><circle cx="550.7" cy="254.3" r="2.6" fill="#008000"/><circle cx="556.9" cy="253.8" r="2.6" fill="#008000"/><circle cx="563.1" cy="253.3" r="2.6" fill="#008000"/><circle cx="569.2" cy="252.9" r="2.6" fill="#008000"/><circle cx="575.4" cy="252.4" r="2.6" fill="#008000"/><circle cx="581.6" cy="251.9" r="2.6" fill="#008000"/><circle cx="587.8" cy="251.4" r="2.6" fill="#008000"/><circle cx="593.9" cy="250.9" r="2.6" fill="#008000"/><circle cx="600.1" cy="250.4" r="2.6" fill="#008000"/><circle cx="606.3" cy="249.9" r="2.6" fill="#008000"/><circle cx="612.5" cy="249.4" r="2.6" fill="#008000"/><circle cx="618.6" cy="248.9" r="2.6" fill="#008000"/><circle cx="624.8" cy="248.4" r="2.6" fill="#008000"/><circle cx="631.0" cy="247.9" r="2.6" fill="#008000"/><circle cx="637.2" cy="247.4" r="2.6" fill="#008000"/><circle cx="643.3" cy="246.9" r="2.6" fill="#008000"/></g><g clip-path="url(#c2)"><polyline points="87.5,420.8 88.7,420.5 90.0,420.3 91.2,420.1 92.4,419.8 93.7,419.9 94.9,419.7 96.1,419.1 97.4,419.2 98.6,419.0 99.9,418.9 101.1,418.9 102.3,418.6 103.6,418.3 104.8,418.2 106.0,417.7 107.3,418.0 108.5,417.9 109.7,417.5 111.0,417.4 112.2,416.9 113.4,417.0 114.7,416.7 115.9,416.7 117.1,416.3 118.4,416.1 119.6,415.9 120.9,415.8 122.1,415.6 123.3,415.5 124.6,415.2 125.8,415.2 127.0,414.9 128.3,414.9 129.5,414.5 130.7,414.5 132.0,414.3 133.2,414.2 134.4,413.7 135.7,413.9 136.9,413.7 138.1,413.3 139.4,413.3 140.6,413.0 141.8,412.9 143.1,412.3 144.3,412.5 145.6,412.3 146.8,412.1 148.0,411.9 149.3,411.6 150.5,411.7 151.7,411.3 153.0,410.9 154.2,411.2 155.4,410.7 156.7,410.5 157.9,410.4 159.1,410.2 160.4,410.3 161.6,409.7 162.8,409.7 164.1,409.5 165.3,409.1 166.6,409.4 167.8,408.9 169.0,408.6 170.3,408.4 171.5,408.2 172.7,407.8 174.0,407.9 175.2,407.6 176.4,407.4 177.7,407.6 178.9,407.3 180.1,406.7 181.4,406.8 182.6,406.6 183.8,406.6 185.1,406.2 186.3,406.2 187.6,405.9 188.8,405.5 190.0,405.5 191.3,405.3 192.5,404.8 193.7,404.7 195.0,404.5 196.2,404.3 197.4,404.3 198.7,404.1 199.9,404.1 201.1,403.5 202.4,403.4 203.6,403.2 204.8,403.2 206.1,402.7 207.3,402.5 208.5,402.4 209.8,402.4 211.0,402.1 212.3,401.8 213.5,401.7 214.7,401.4 216.0,401.1 217.2,401.1 218.4,400.8 219.7,400.7 220.9,400.2 222.1,400.1 223.4,399.6 224.6,399.8 225.8,399.7 227.1,399.3 228.3,399.2 229.5,398.9 230.8,398.6 232.0,398.6 233.3,398.2 234.5,398.4 235.7,397.8 237.0,397.7 238.2,397.5 239.4,397.4 240.7,396.9 241.9,396.9 243.1,396.5 244.4,396.5 245.6,396.2 246.8,396.0 248.1,395.5 249.3,395.6 250.5,395.4 251.8,395.2 253.0,395.0 254.3,394.9 255.5,394.3 256.7,394.1 258.0,394.2 259.2,393.9 260.4,393.9 261.7,393.4 262.9,393.2 264.1,393.1 265.4,393.0 266.6,392.5 267.8,392.3 269.1,392.2 270.3,391.9 271.5,392.0 272.8,391.7 274.0,391.5 275.3,391.1 276.5,390.7 277.7,390.7 279.0,390.3 280.2,390.3 281.4,390.1 282.7,389.7 283.9,389.6 285.1,389.2 286.4,389.1 287.6,389.1 288.8,389.1 290.1,388.5 291.3,388.5 292.5,388.3 293.8,388.1 295.0,387.8 296.2,387.5 297.5,387.2 298.7,386.8 300.0,387.0 301.2,386.6 302.4,386.5 303.7,386.3 304.9,385.9 306.1,385.7 307.4,385.7 308.6,385.1 309.8,385.2 311.1,384.7 312.3,384.6 313.5,384.3 314.8,384.1 316.0,384.0 317.2,383.7 318.5,383.7 319.7,383.5 321.0,383.1 322.2,382.7 323.4,382.7 324.7,382.5 325.9,382.0 327.1,382.0 328.4,381.8 329.6,381.7 330.8,381.3 332.1,381.0 333.3,380.9 334.5,380.5 335.8,380.4 337.0,380.1 338.2,379.9 339.5,379.8 340.7,379.4 342.0,379.1 343.2,379.1 344.4,379.0 345.7,378.6 346.9,378.5 348.1,377.9 349.4,377.9 350.6,377.9 351.8,377.6 353.1,377.1 354.3,377.3 355.5,377.0 356.8,376.7 358.0,376.5 359.2,376.3 360.5,376.0 361.7,376.0 362.9,375.6 364.2,375.4 365.4,375.1 366.7,374.9 367.9,374.7 369.1,374.5 370.4,374.3 371.6,373.9 372.8,373.7 374.1,373.4 375.3,373.5 376.5,373.1 377.8,372.8 379.0,372.7 380.2,372.4 381.5,372.2 382.7,371.9 383.9,372.0 385.2,371.5 386.4,371.4 387.7,371.2 388.9,370.9 390.1,370.5 391.4,370.3 392.6,370.2 393.8,369.9 395.1,369.8 396.3,369.7 397.5,369.6 398.8,369.1 400.0,368.9 401.2,368.7 402.5,368.4 403.7,368.1 404.9,368.1 406.2,367.9 407.4,367.3 408.7,367.2 409.9,367.2 411.1,367.2 412.4,366.8 413.6,366.5 414.8,366.2 416.1,366.0 417.3,365.8 418.5,365.4 419.8,365.5 421.0,365.2 422.2,365.0 423.5,364.6 424.7,364.4 425.9,364.1 427.2,364.0 428.4,363.3 429.7,363.5 430.9,363.5 432.1,363.2 433.4,363.0 434.6,362.6 435.8,362.4 437.1,362.2 438.3,362.1 439.5,361.9 440.8,361.4 442.0,361.3 443.2,361.6 444.5,361.0 445.7,360.9 446.9,360.6 448.2,360.1 449.4,360.3 450.6,360.0 451.9,359.3 453.1,359.5 454.4,359.3 455.6,358.9 456.8,358.9 458.1,358.6" fill="none" stroke="#ff0000" stroke-width="5.2" stroke-linecap="round" stroke-linejoin="round"/><circle cx="464.2" cy="357.5" r="2.6" fill="#ff0000"/><circle cx="470.4" cy="356.4" r="2.6" fill="#ff0000"/><circle cx="476.6" cy="355.4" r="2.6" fill="#ff0000"/><circle cx="482.8" cy="354.3" r="2.6" fill="#ff0000"/><circle cx="488.9" cy="353.2" r="2.6" fill="#ff0000"/><circle cx="495.1" cy="352.2" r="2.6" fill="#ff0000"/><circle cx="501.3" cy="351.1" r="2.6" fill="#ff0000"/><circle cx="507.5" cy="350.1" r="2.6" fill="#ff0000"/><circle cx="513.6" cy="349.1" r="2.6" fill="#ff0000"/><circle cx="519.8" cy="348.1" r="2.6" fill="#ff0000"/><circle cx="526.0" cy="347.0" r="2.6" fill="#ff0000"/><circle cx="532.2" cy="346.0" r="2.6" fill="#ff0000"/><circle cx="538.3" cy="345.0" r="2.6" fill="#ff0000"/><circle cx="544.5" cy="344.0" r="2.6" fill="#ff0000"/><circle cx="550.7" cy="343.1" r="2.6" fill="#ff0000"/><circle cx="556.9" cy="342.1" r="2.6" fill="#ff0000"/><circle cx="563.1" cy="341.1" r="2.6" fill="#ff0000"/><circle cx="569.2" cy="340.2" r="2.6" fill="#ff0000"/><circle cx="575.4" cy="339.2" r="2.6" fill="#ff0000"/><circle cx="581.6" cy="338.3" r="2.6" fill="#ff0000"/><circle cx="587.8" cy="337.4" r="2.6" fill="#ff0000"/><circle cx="593.9" cy="336.5" r="2.6" fill="#ff0000"/><circle cx="600.1" cy="335.6" r="2.6" fill="#ff0000"/><circle cx="606.3" cy="334.7" r="2.6" fill="#ff0000"/><circle cx="612.5" cy="333.8" r="2.6" fill="#ff0000"/><circle cx="618.6" cy="332.9" r="2.6" fill="#ff0000"/><circle cx="624.8" cy="332.1" r="2.6" fill="#ff0000"/><circle cx="631.0" cy="331.2" r="2.6" fill="#ff0000"/><circle cx="637.2" cy="330.4" r="2.6" fill="#ff0000"/><circle cx="643.3" cy="329.6" r="2.6" fill="#ff0000"/><polyline points="87.5,420.8 88.7,420.2 90.0,419.9 91.2,419.8 92.4,419.5 93.7,419.2 94.9,419.2 96.1,418.9 97.4,418.8 98.6,418.7 99.9,418.3 101.1,418.4 102.3,417.8 103.6,418.0 104.8,417.7 106.0,417.7 107.3,417.8 108.5,417.7 109.7,417.3 111.0,417.4 112.2,417.2 113.4,417.0 114.7,417.0 115.9,416.5 117.1,416.5 118.4,416.4 119.6,416.2 120.9,416.3 122.1,416.0 123.3,416.1 124.6,415.6 125.8,415.8 127.0,415.7 128.3,415.3 129.5,415.2 130.7,415.3 132.0,415.0 133.2,415.0 134.4,414.8 135.7,414.6 136.9,414.5 138.1,414.4 139.4,414.3 140.6,414.2 141.8,414.1 143.1,413.8 144.3,414.0 145.6,413.5 146.8,413.4 148.0,413.2 149.3,413.4 150.5,413.0 151.7,413.0 153.0,412.9 154.2,412.5 155.4,412.8 156.7,412.6 157.9,412.7 159.1,412.8 160.4,412.3 161.6,412.2 162.8,412.0 164.1,411.9 165.3,412.1 166.6,411.7 167.8,411.5 169.0,411.3 170.3,411.5 171.5,411.4 172.7,411.2 174.0,411.1 175.2,411.1 176.4,410.9 177.7,410.4 178.9,410.7 180.1,410.7 181.4,410.3 182.6,410.2 183.8,410.0 185.1,410.0 186.3,409.8 187.6,409.8 188.8,409.7 190.0,409.4 191.3,409.3 192.5,409.2 193.7,409.0 195.0,409.1 196.2,408.8 197.4,408.7 198.7,408.4 199.9,408.7 201.1,408.4 202.4,408.2 203.6,408.2 204.8,408.0 206.1,407.8 207.3,407.7 208.5,407.8 209.8,407.6 211.0,407.7 212.3,407.1 213.5,407.1 214.7,406.8 216.0,406.8 217.2,406.9 218.4,406.5 219.7,406.7 220.9,406.4 222.1,406.3 223.4,406.0 224.6,405.8 225.8,405.9 227.1,405.8 228.3,405.6 229.5,405.5 230.8,405.2 232.0,405.2 233.3,404.9 234.5,404.6 235.7,404.9 237.0,404.8 238.2,404.5 239.4,404.4 240.7,404.4 241.9,404.4 243.1,403.7 244.4,403.9 245.6,404.0 246.8,404.0 248.1,403.4 249.3,403.4 250.5,403.3 251.8,403.3 253.0,403.0 254.3,402.9 255.5,403.1 256.7,402.3 258.0,402.4 259.2,402.4 260.4,402.4 261.7,402.2 262.9,401.6 264.1,401.8 265.4,401.9 266.6,401.5 267.8,401.4 269.1,401.2 270.3,401.2 271.5,401.1 272.8,400.9 274.0,400.8 275.3,400.9 276.5,400.7 277.7,400.4 279.0,400.5 280.2,400.1 281.4,400.0 282.7,399.8 283.9,399.7 285.1,399.6 286.4,399.5 287.6,399.3 288.8,399.1 290.1,399.2 291.3,399.1 292.5,398.9 293.8,399.0 295.0,398.6 296.2,398.3 297.5,398.1 298.7,397.9 300.0,398.0 301.2,397.8 302.4,397.8 303.7,397.6 304.9,397.4 306.1,397.2 307.4,397.1 308.6,397.3 309.8,396.8 311.1,396.7 312.3,396.7 313.5,396.4 314.8,396.2 316.0,396.2 317.2,396.2 318.5,395.5 319.7,395.9 321.0,395.6 322.2,395.3 323.4,395.5 324.7,395.1 325.9,395.2 327.1,395.0 328.4,394.9 329.6,394.4 330.8,394.7 332.1,394.3 333.3,394.2 334.5,394.4 335.8,393.7 337.0,393.9 338.2,393.7 339.5,393.5 340.7,393.5 342.0,393.4 343.2,393.1 344.4,393.1 345.7,392.8 346.9,392.5 348.1,392.7 349.4,392.6 350.6,392.3 351.8,392.1 353.1,391.9 354.3,392.0 355.5,392.0 356.8,391.5 358.0,391.3 359.2,391.1 360.5,391.3 361.7,390.9 362.9,390.7 364.2,391.0 365.4,390.4 366.7,390.2 367.9,390.2 369.1,390.1 370.4,389.9 371.6,389.9 372.8,389.9 374.1,389.7 375.3,389.5 376.5,389.4 377.8,389.0 379.0,389.1 380.2,388.9 381.5,389.0 382.7,388.5 383.9,388.5 385.2,388.1 386.4,388.4 387.7,388.0 388.9,387.9 390.1,387.8 391.4,387.3 392.6,387.3 393.8,387.4 395.1,387.0 396.3,387.1 397.5,386.7 398.8,386.9 400.0,386.6 401.2,386.5 402.5,386.3 403.7,386.4 404.9,386.2 406.2,385.8 407.4,385.6 408.7,385.5 409.9,385.5 411.1,385.5 412.4,385.2 413.6,385.0 414.8,384.9 416.1,384.7 417.3,384.5 418.5,384.3 419.8,384.3 421.0,384.2 422.2,384.0 423.5,383.9 424.7,383.9 425.9,383.6 427.2,383.6 428.4,383.5 429.7,383.2 430.9,383.0 432.1,382.7 433.4,382.7 434.6,382.4 435.8,382.2 437.1,382.2 438.3,382.0 439.5,382.0 440.8,381.7 442.0,381.6 443.2,381.5 444.5,381.5 445.7,381.3 446.9,381.1 448.2,380.9 449.4,380.6 450.6,380.8 451.9,380.5 453.1,380.3 454.4,379.8 455.6,380.0 456.8,379.9 458.1,379.6" fill="none" stroke="#0000ff" stroke-width="5.2" stroke-linecap="round" stroke-linejoin="round"/><circle cx="464.2" cy="379.0" r="2.6" fill="#0000ff"/><circle cx="470.4" cy="378.2" r="2.6" fill="#0000ff"/><circle cx="476.6" cy="377.5" r="2.6" fill="#0000ff"/><circle cx="482.8" cy="376.8" r="2.6" fill="#0000ff"/><circle cx="488.9" cy="376.0" r="2.6" fill="#0000ff"/><circle cx="495.1" cy="375.3" r="2.6" fill="#0000ff"/><circle cx="501.3" cy="374.6" r="2.6" fill="#0000ff"/><circle cx="507.5" cy="373.9" r="2.6" fill="#0000ff"/><circle cx="513.6" cy="373.1" r="2.6" fill="#0000ff"/><circle cx="519.8" cy="372.4" r="2.6" fill="#0000ff"/><circle cx="526.0" cy="371.7" r="2.6" fill="#0000ff"/><circle cx="532.2" cy="370.9" r="2.6" fill="#0000ff"/><circle cx="538.3" cy="370.2" r="2.6" fill="#0000ff"/><circle cx="544.5" cy="369.5" r="2.6" fill="#0000ff"/><circle cx="550.7" cy="368.8" r="2.6" fill="#0000ff"/><circle cx="556.9" cy="368.0" r="2.6" fill="#0000ff"/><circle cx="563.1" cy="367.3" r="2.6" fill="#0000ff"/><circle cx="569.2" cy="366.6" r="2.6" fill="#0000ff"/><circle cx="575.4" cy="365.9" r="2.6" fill="#0000ff"/><circle cx="581.6" cy="365.2" r="2.6" fill="#0000ff"/><circle cx="587.8" cy="364.5" r="2.6" fill="#0000ff"/><circle cx="593.9" cy="363.8" r="2.6" fill="#0000ff"/><circle cx="600.1" cy="363.1" r="2.6" fill="#0000ff"/><circle cx="606.3" cy="362.3" r="2.6" fill="#0000ff"/><circle cx="612.5" cy="361.7" r="2.6" fill="#0000ff"/><circle cx="618.6" cy="361.0" r="2.6" fill="#0000ff"/><circle cx="624.8" cy="360.3" r="2.6" fill="#0000ff"/><circle cx="631.0" cy="359.6" r="2.6" fill="#0000ff"/><circle cx="637.2" cy="358.9" r="2.6" fill="#0000ff"/><circle cx="643.3" cy="358.2" r="2.6" fill="#0000ff"/><polyline points="87.5,420.8 88.7,420.5 90.0,420.4 91.2,420.0 92.4,420.1 93.7,420.0 94.9,420.0 96.1,419.7 97.4,419.6 98.6,419.6 99.9,419.2 101.1,419.3 102.3,419.1 103.6,419.0 104.8,418.7 106.0,418.9 107.3,418.7 108.5,418.6 109.7,418.4 111.0,418.6 112.2,418.1 113.4,418.2 114.7,418.2 115.9,418.0 117.1,418.1 118.4,417.9 119.6,417.6 120.9,417.4 122.1,417.5 123.3,417.3 124.6,417.3 125.8,417.0 127.0,417.1 128.3,416.9 129.5,416.9 130.7,416.9 132.0,416.8 133.2,416.6 134.4,416.3 135.7,415.9 136.9,416.3 138.1,416.2 139.4,416.0 140.6,415.9 141.8,415.9 143.1,415.5 144.3,415.5 145.6,415.4 146.8,415.4 148.0,415.3 149.3,415.1 150.5,415.3 151.7,415.1 153.0,414.9 154.2,415.0 155.4,414.5 156.7,414.7 157.9,414.6 159.1,414.4 160.4,414.1 161.6,414.2 162.8,414.2 164.1,414.2 165.3,413.9 166.6,413.9 167.8,413.4 169.0,413.5 170.3,414.0 171.5,413.6 172.7,413.3 174.0,412.9 175.2,413.4 176.4,413.1 177.7,412.8 178.9,412.9 180.1,412.7 181.4,412.7 182.6,412.5 183.8,412.6 185.1,412.4 186.3,412.5 187.6,412.0 188.8,412.0 190.0,412.0 191.3,411.9 192.5,411.8 193.7,411.7 195.0,411.5 196.2,411.4 197.4,411.4 198.7,411.3 199.9,411.2 201.1,411.1 202.4,410.9 203.6,410.9 204.8,410.5 206.1,410.7 207.3,410.6 208.5,410.6 209.8,410.4 211.0,410.3 212.3,410.3 213.5,410.1 214.7,409.8 216.0,410.0 217.2,409.9 218.4,409.7 219.7,409.6 220.9,409.3 222.1,409.5 223.4,409.3 224.6,409.3 225.8,409.2 227.1,409.1 228.3,409.1 229.5,408.7 230.8,408.6 232.0,408.7 233.3,408.6 234.5,408.2 235.7,408.3 237.0,408.0 238.2,408.5 239.4,408.0 240.7,408.0 241.9,407.9 243.1,407.6 244.4,407.5 245.6,407.5 246.8,407.3 248.1,407.5 249.3,407.2 250.5,407.1 251.8,407.2 253.0,406.8 254.3,406.9 255.5,406.7 256.7,406.7 258.0,406.5 259.2,406.3 260.4,406.3 261.7,406.3 262.9,406.0 264.1,406.0 265.4,406.0 266.6,405.8 267.8,405.7 269.1,405.7 270.3,405.4 271.5,405.2 272.8,405.4 274.0,405.2 275.3,405.2 276.5,405.2 277.7,404.8 279.0,404.9 280.2,404.7 281.4,404.8 282.7,404.6 283.9,404.3 285.1,404.2 286.4,404.2 287.6,404.0 288.8,404.0 290.1,403.8 291.3,403.6 292.5,403.6 293.8,403.6 295.0,403.6 296.2,403.5 297.5,403.3 298.7,403.0 300.0,403.3 301.2,403.1 302.4,403.0 303.7,402.7 304.9,402.8 306.1,402.8 307.4,402.8 308.6,402.3 309.8,402.5 311.1,402.0 312.3,401.9 313.5,402.1 314.8,401.9 316.0,401.8 317.2,401.9 318.5,401.7 319.7,401.5 321.0,401.4 322.2,401.2 323.4,401.4 324.7,401.0 325.9,401.0 327.1,400.9 328.4,400.8 329.6,400.5 330.8,400.3 332.1,400.5 333.3,400.3 334.5,400.4 335.8,400.2 337.0,399.9 338.2,399.9 339.5,399.8 340.7,399.7 342.0,399.6 343.2,399.4 344.4,399.3 345.7,399.6 346.9,399.2 348.1,399.5 349.4,399.0 350.6,398.9 351.8,398.8 353.1,398.4 354.3,398.5 355.5,398.3 356.8,398.3 358.0,398.0 359.2,398.2 360.5,398.1 361.7,397.9 362.9,397.5 364.2,397.8 365.4,397.6 366.7,397.3 367.9,397.3 369.1,397.4 370.4,396.9 371.6,397.0 372.8,396.8 374.1,396.8 375.3,396.7 376.5,396.8 377.8,396.4 379.0,396.5 380.2,396.3 381.5,396.1 382.7,396.2 383.9,396.0 385.2,395.9 386.4,395.8 387.7,395.6 388.9,395.8 390.1,395.6 391.4,395.1 392.6,395.5 393.8,395.3 395.1,395.0 396.3,395.2 397.5,395.0 398.8,394.8 400.0,394.4 401.2,394.6 402.5,394.3 403.7,394.4 404.9,394.2 406.2,394.2 407.4,394.2 408.7,393.9 409.9,394.0 411.1,393.7 412.4,393.5 413.6,393.4 414.8,393.1 416.1,393.0 417.3,393.3 418.5,393.1 419.8,392.7 421.0,392.8 422.2,392.7 423.5,392.4 424.7,392.6 425.9,392.2 427.2,392.3 428.4,392.0 429.7,392.0 430.9,391.8 432.1,391.7 433.4,391.5 434.6,391.7 435.8,391.5 437.1,391.6 438.3,391.5 439.5,391.2 440.8,391.0 442.0,390.8 443.2,390.9 444.5,390.4 445.7,390.6 446.9,390.4 448.2,390.4 449.4,390.4 450.6,389.9 451.9,390.1 453.1,389.8 454.4,389.9 455.6,389.6 456.8,389.6 458.1,389.5" fill="none" stroke="#ff8000" stroke-width="5.2" stroke-linecap="round" stroke-linejoin="round"/><circle cx="464.2" cy="388.9" r="2.6" fill="#ff8000"/><circle cx="470.4" cy="388.4" r="2.6" fill="#ff8000"/><circle cx="476.6" cy="387.8" r="2.6" fill="#ff8000"/><circle cx="482.8" cy="387.2" r="2.6" fill="#ff8000"/><circle cx="488.9" cy="386.7" r="2.6" fill="#ff8000"/><circle cx="495.1" cy="386.1" r="2.6" fill="#ff8000"/><circle cx="501.3" cy="385.5" r="2.6" fill="#ff8000"/><circle cx="507.5" cy="384.9" r="2.6" fill="#ff8000"/><circle cx="513.6" cy="384.4" r="2.6" fill="#ff8000"/><circle cx="519.8" cy="383.8" r="2.6" fill="#ff8000"/><circle cx="526.0" cy="383.2" r="2.6" fill="#ff8000"/><circle cx="532.2" cy="382.6" r="2.6" fill="#ff8000"/><circle cx="538.3" cy="382.0" r="2.6" fill="#ff8000"/><circle cx="544.5" cy="381.4" r="2.6" fill="#ff8000"/><circle cx="550.7" cy="380.8" r="2.6" fill="#ff8000"/><circle cx="556.9" cy="380.2" r="2.6" fill="#ff8000"/><circle cx="563.1" cy="379.6" r="2.6" fill="#ff8000"/><circle cx="569.2" cy="379.0" r="2.6" fill="#ff8000"/><circle cx="575.4" cy="378.4" r="2.6" fill="#ff8000"/><circle cx="581.6" cy="377.8" r="2.6" fill="#ff8000"/><circle cx="587.8" cy="377.2" r="2.6" fill="#ff8000"/><circle cx="593.9" cy="376.5" r="2.6" fill="#ff8000"/><circle cx="600.1" cy="375.9" r="2.6" fill="#ff8000"/><circle cx="606.3" cy="375.3" r="2.6" fill="#ff8000"/><circle cx="612.5" cy="374.7" r="2.6" fill="#ff8000"/><circle cx="618.6" cy="374.0" r="2.6" fill="#ff8000"/><circle cx="624.8" cy="373.4" r="2.6" fill="#ff8000"/><circle cx="631.0" cy="372.8" r="2.6" fill="#ff8000"/><circle cx="637.2" cy="372.1" r="2.6" fill="#ff8000"/><circle cx="643.3" cy="371.5" r="2.6" fill="#ff8000"/><polyline points="87.5,420.8 88.7,420.4 90.0,420.3 91.2,420.3 92.4,419.9 93.7,420.0 94.9,419.8 96.1,419.9 97.4,419.7 98.6,419.4 99.9,419.4 101.1,419.3 102.3,419.3 103.6,419.2 104.8,419.4 106.0,419.3 107.3,418.9 108.5,419.1 109.7,418.7 111.0,418.6 112.2,418.9 113.4,418.9 114.7,418.9 115.9,418.4 117.1,418.4 118.4,418.2 119.6,418.2 120.9,418.0 122.1,418.0 123.3,418.2 124.6,418.0 125.8,418.0 127.0,417.9 128.3,417.9 129.5,417.8 130.7,417.5 132.0,417.7 133.2,417.7 134.4,417.5 135.7,417.5 136.9,417.4 138.1,417.3 139.4,417.3 140.6,417.0 141.8,416.9 143.1,417.1 144.3,416.8 145.6,416.7 146.8,416.8 148.0,416.8 149.3,416.6 150.5,416.6 151.7,416.5 153.0,416.6 154.2,416.1 155.4,416.4 156.7,416.2 157.9,416.3 159.1,416.1 160.4,416.4 161.6,416.2 162.8,416.3 164.1,415.7 165.3,416.0 166.6,415.9 167.8,415.5 169.0,415.6 170.3,415.5 171.5,415.3 172.7,415.3 174.0,415.3 175.2,415.1 176.4,415.4 177.7,414.9 178.9,414.8 180.1,414.7 181.4,415.2 182.6,414.9 183.8,414.8 185.1,414.4 186.3,414.5 187.6,414.3 188.8,414.4 190.0,414.5 191.3,414.5 192.5,414.3 193.7,414.0 195.0,414.2 196.2,414.3 197.4,413.9 198.7,413.7 199.9,413.5 201.1,413.6 202.4,413.6 203.6,413.9 204.8,413.6 206.1,413.5 207.3,413.4 208.5,413.5 209.8,413.2 211.0,413.0 212.3,413.1 213.5,413.1 214.7,412.9 216.0,412.8 217.2,412.7 218.4,412.9 219.7,412.5 220.9,412.6 222.1,412.6 223.4,412.4 224.6,412.5 225.8,412.2 227.1,411.9 228.3,412.1 229.5,412.1 230.8,412.1 232.0,411.7 233.3,411.7 234.5,412.0 235.7,411.6 237.0,411.7 238.2,411.7 239.4,411.5 240.7,411.5 241.9,411.2 243.1,411.4 244.4,411.3 245.6,411.2 246.8,411.0 248.1,410.9 249.3,411.0 250.5,410.9 251.8,410.9 253.0,410.7 254.3,410.7 255.5,410.2 256.7,410.1 258.0,410.4 259.2,410.2 260.4,410.1 261.7,410.2 262.9,410.1 264.1,409.8 265.4,409.9 266.6,409.8 267.8,409.7 269.1,409.4 270.3,409.6 271.5,409.4 272.8,409.3 274.0,409.2 275.3,409.2 276.5,409.2 277.7,409.1 279.0,408.9 280.2,408.9 281.4,408.8 282.7,408.7 283.9,408.3 285.1,408.5 286.4,408.7 287.6,408.2 288.8,408.3 290.1,408.4 291.3,408.0 292.5,408.1 293.8,407.8 295.0,408.0 296.2,407.7 297.5,407.8 298.7,407.5 300.0,407.5 301.2,407.6 302.4,407.4 303.7,407.3 304.9,407.2 306.1,407.4 307.4,407.0 308.6,407.0 309.8,406.7 311.1,407.0 312.3,406.6 313.5,406.6 314.8,406.2 316.0,406.6 317.2,406.3 318.5,406.4 319.7,406.4 321.0,406.0 322.2,406.0 323.4,405.8 324.7,406.1 325.9,406.0 327.1,405.6 328.4,405.7 329.6,405.4 330.8,405.2 332.1,405.4 333.3,405.3 334.5,405.2 335.8,405.2 337.0,405.0 338.2,405.0 339.5,404.8 340.7,404.8 342.0,404.7 343.2,404.6 344.4,404.6 345.7,404.4 346.9,404.3 348.1,404.0 349.4,404.4 350.6,404.3 351.8,404.0 353.1,403.9 354.3,403.8 355.5,403.5 356.8,403.9 358.0,403.6 359.2,403.6 360.5,403.4 361.7,403.2 362.9,403.4 364.2,403.0 365.4,403.1 366.7,403.1 367.9,403.1 369.1,402.8 370.4,402.8 371.6,402.4 372.8,402.7 374.1,402.4 375.3,402.2 376.5,402.2 377.8,402.0 379.0,402.1 380.2,401.9 381.5,401.9 382.7,401.5 383.9,401.7 385.2,401.6 386.4,401.4 387.7,401.5 388.9,401.3 390.1,401.2 391.4,401.0 392.6,401.1 393.8,400.9 395.1,400.9 396.3,400.7 397.5,400.6 398.8,400.5 400.0,400.4 401.2,400.1 402.5,400.4 403.7,400.0 404.9,400.0 406.2,400.2 407.4,399.9 408.7,400.0 409.9,399.8 411.1,399.9 412.4,399.5 413.6,399.6 414.8,399.2 416.1,399.4 417.3,399.2 418.5,399.3 419.8,399.0 421.0,398.9 422.2,398.8 423.5,398.4 424.7,398.4 425.9,398.5 427.2,398.5 428.4,398.4 429.7,398.3 430.9,398.3 432.1,398.0 433.4,398.0 434.6,397.8 435.8,397.9 437.1,397.7 438.3,397.4 439.5,397.5 440.8,397.3 442.0,397.5 443.2,397.3 444.5,397.2 445.7,397.0 446.9,396.9 448.2,397.0 449.4,396.7 450.6,396.7 451.9,396.8 453.1,396.5 454.4,396.3 455.6,396.4 456.8,396.1 458.1,396.0" fill="none" stroke="#008000" stroke-width="5.2" stroke-linecap="round" stroke-linejoin="round"/><circle cx="464.2" cy="395.7" r="2.6" fill="#008000"/><circle cx="470.4" cy="395.2" r="2.6" fill="#008000"/><circle cx="476.6" cy="394.7" r="2.6" fill="#008000"/><circle cx="482.8" cy="394.3" r="2.6" fill="#008000"/><circle cx="488.9" cy="393.8" r="2.6" fill="#008000"/><circle cx="495.1" cy="393.3" r="2.6" fill="#008000"/><circle cx="501.3" cy="392.9" r="2.6" fill="#008000"/><circle cx="507.5" cy="392.4" r="2.6" fill="#008000"/><circle cx="513.6" cy="391.9" r="2.6" fill="#008000"/><circle cx="519.8" cy="391.5" r="2.6" fill="#008000"/><circle cx="526.0" cy="391.0" r="2.6" fill="#008000"/><circle cx="532.2" cy="390.5" r="2.6" fill="#008000"/><circle cx="538.3" cy="390.1" r="2.6" fill="#008000"/><circle cx="544.5" cy="389.6" r="2.6" fill="#008000"/><circle cx="550.7" cy="389.1" r="2.6" fill="#008000"/><circle cx="556.9" cy="388.7" r="2.6" fill="#008000"/><circle cx="563.1" cy="388.2" r="2.6" fill="#008000"/><circle cx="569.2" cy="387.8" r="2.6" fill="#008000"/><circle cx="575.4" cy="387.3" r="2.6" fill="#008000"/><circle cx="581.6" cy="386.8" r="2.6" fill="#008000"/><circle cx="587.8" cy="386.4" r="2.6" fill="#008000"/><circle cx="593.9" cy="385.9" r="2.6" fill="#008000"/><circle cx="600.1" cy="385.5" r="2.6" fill="#008000"/><circle cx="606.3" cy="385.0" r="2.6" fill="#008000"/><circle cx="612.5" cy="384.6" r="2.6" fill="#008000"/><circle cx="618.6" cy="384.1" r="2.6" fill="#008000"/><circle cx="624.8" cy="383.7" r="2.6" fill="#008000"/><circle cx="631.0" cy="383.2" r="2.6" fill="#008000"/><circle cx="637.2" cy="382.8" r="2.6" fill="#008000"/><circle cx="643.3" cy="382.4" r="2.6" fill="#008000"/></g><text transform="translate(79.00,18.30) scale(0.96,1)" font-family="Liberation Sans, sans-serif" font-size="25.2" text-anchor="end" >0.8</text><text transform="translate(79.00,52.47) scale(0.96,1)" font-family="Liberation Sans, sans-serif" font-size="25.2" text-anchor="end" >0.6</text><text transform="translate(79.00,86.64) scale(0.96,1)" font-family="Liberation Sans, sans-serif" font-size="25.2" text-anchor="end" >0.4</text><text transform="translate(79.00,120.80) scale(0.96,1)" font-family="Liberation Sans, sans-serif" font-size="25.2" text-anchor="end" >0.2</text><text transform="translate(79.00,154.97) scale(0.96,1)" font-family="Liberation Sans, sans-serif" font-size="25.2" text-anchor="end" >0.8</text><text transform="translate(79.00,189.14) scale(0.96,1)" font-family="Liberation Sans, sans-serif" font-size="25.2" text-anchor="end" >0.6</text><text transform="translate(79.00,223.31) scale(0.96,1)" font-family="Liberation Sans, sans-serif" font-size="25.2" text-anchor="end" >0.4</text><text transform="translate(79.00,257.47) scale(0.96,1)" font-family="Liberation Sans, sans-serif" font-size="25.2" text-anchor="end" >0.2</text><text transform="translate(79.00,291.63) scale(0.96,1)" font-family="Liberation Sans, sans-serif" font-size="25.2" text-anchor="end" >0.8</text><text transform="translate(79.00,325.80) scale(0.96,1)" font-family="Liberation Sans, sans-serif" font-size="25.2" text-anchor="end" >0.6</text><text transform="translate(79.00,359.96) scale(0.96,1)" font-family="Liberation Sans, sans-serif" font-size="25.2" text-anchor="end" >0.4</text><text transform="translate(79.00,394.13) scale(0.96,1)" font-family="Liberation Sans, sans-serif" font-size="25.2" text-anchor="end" >0.2</text><text transform="translate(79.00,428.30) scale(0.96,1)" font-family="Liberation Sans, sans-serif" font-size="25.2" text-anchor="end" >0.0</text><text transform="translate(87.50,445.60) scale(1,1.11)" font-family="Liberation Sans, sans-serif" font-size="20.5" text-anchor="middle" >0</text><text transform="translate(211.02,445.60) scale(1,1.11)" font-family="Liberation Sans, sans-serif" font-size="20.5" text-anchor="middle" >2</text><text transform="translate(334.54,445.60) scale(1,1.11)" font-family="Liberation Sans, sans-serif" font-size="20.5" text-anchor="middle" >4</text><text transform="translate(458.06,445.60) scale(1,1.11)" font-family="Liberation Sans, sans-serif" font-size="20.5" text-anchor="middle" >6</text><text transform="translate(581.58,445.60) scale(1,1.11)" font-family="Liberation Sans, sans-serif" font-size="20.5" text-anchor="middle" >8</text><text transform="translate(381.40,490.10) scale(1,1.02)" font-family="Liberation Sans, sans-serif" font-size="31.6" text-anchor="middle" >B (T)</text><text transform="translate(22.9,293.5) rotate(-90)" font-family="Liberation Sans, sans-serif"><tspan x="-1.43" y="0" font-size="23">(</tspan><tspan x="6.85" y="0" font-size="32.5">R</tspan><tspan x="29.2" y="0" font-size="31">-</tspan><tspan x="40.3" y="0" font-size="32.5">R</tspan><tspan x="63.0" y="7.45" font-size="24.4">0</tspan><tspan x="77.4" y="0" font-size="23">)</tspan><tspan x="84.9" y="0" font-size="30">/</tspan><tspan x="92.6" y="0" font-size="32.5">R</tspan><tspan x="115.1" y="7.45" font-size="24.4">0</tspan></text><rect x="100.5" y="16.0" width="99" height="97" fill="#fff" stroke="#6e6e6e" stroke-width="1.1"/><circle cx="122.0" cy="29.9" r="2.6" fill="#ff0000"/><text transform="translate(147.50,36.00) scale(1,1.04)" font-family="Liberation Sans, sans-serif" font-size="19.0" text-anchor="start" >60 K</text><circle cx="122.0" cy="53.4" r="2.6" fill="#0000ff"/><text transform="translate(147.50,59.50) scale(1,1.04)" font-family="Liberation Sans, sans-serif" font-size="19.0" text-anchor="start" >100 K</text><circle cx="122.0" cy="76.8" r="2.6" fill="#ff8000"/><text transform="translate(147.50,83.00) scale(1,1.04)" font-family="Liberation Sans, sans-serif" font-size="19.0" text-anchor="start" >150 K</text><circle cx="122.0" cy="100.3" r="2.6" fill="#008000"/><text transform="translate(147.50,106.50) scale(1,1.04)" font-family="Liberation Sans, sans-serif" font-size="19.0" text-anchor="start" >200 K</text><rect x="101.6" y="151.0" width="99" height="97.5" fill="#fff" stroke="#6e6e6e" stroke-width="1.1"/><circle cx="123.8" cy="166.0" r="2.6" fill="#ff0000"/><text transform="translate(148.60,171.00) scale(1,1.04)" font-family="Liberation Sans, sans-serif" font-size="19.0" text-anchor="start" >50 K</text><circle cx="123.8" cy="189.5" r="2.6" fill="#0000ff"/><text transform="translate(148.60,194.50) scale(1,1.04)" font-family="Liberation Sans, sans-serif" font-size="19.0" text-anchor="start" >100 K</text><circle cx="123.8" cy="212.9" r="2.6" fill="#ff8000"/><text transform="translate(148.60,218.00) scale(1,1.04)" font-family="Liberation Sans, sans-serif" font-size="19.0" text-anchor="start" >150 K</text><circle cx="123.8" cy="236.4" r="2.6" fill="#008000"/><text transform="translate(148.60,241.50) scale(1,1.04)" font-family="Liberation Sans, sans-serif" font-size="19.0" text-anchor="start" >200 K</text><rect x="101.9" y="290.9" width="99.6" height="96.6" fill="#fff" stroke="#6e6e6e" stroke-width="1.1"/><circle cx="123.7" cy="304.7" r="2.6" fill="#ff0000"/><text transform="translate(148.90,310.90) scale(1,1.04)" font-family="Liberation Sans, sans-serif" font-size="19.0" text-anchor="start" >50 K</text><circle cx="123.7" cy="328.3" r="2.6" fill="#0000ff"/><text transform="translate(148.90,334.40) scale(1,1.04)" font-family="Liberation Sans, sans-serif" font-size="19.0" text-anchor="start" >100 K</text><circle cx="123.7" cy="351.9" r="2.6" fill="#ff8000"/><text transform="translate(148.90,357.90) scale(1,1.04)" font-family="Liberation Sans, sans-serif" font-size="19.0" text-anchor="start" >150 K</text><circle cx="123.7" cy="375.5" r="2.6" fill="#008000"/><text transform="translate(148.90,381.40) scale(1,1.04)" font-family="Liberation Sans, sans-serif" font-size="19.0" text-anchor="start" >200 K</text><text transform="translate(204.20,35.70) scale(1,1.08)" font-family="Liberation Sans, sans-serif" font-size="20.85" text-anchor="start" >Vacuum 6 months + Exposure  2 days</text><text transform="translate(215.80,179.60) scale(1,1.08)" font-family="Liberation Sans, sans-serif" font-size="21.1" text-anchor="start" >Vacuum 6 months</text><text transform="translate(215.80,312.10) scale(1,1.08)" font-family="Liberation Sans, sans-serif" font-size="21.1" text-anchor="start" >New cleave</text></svg>
</body></html>
